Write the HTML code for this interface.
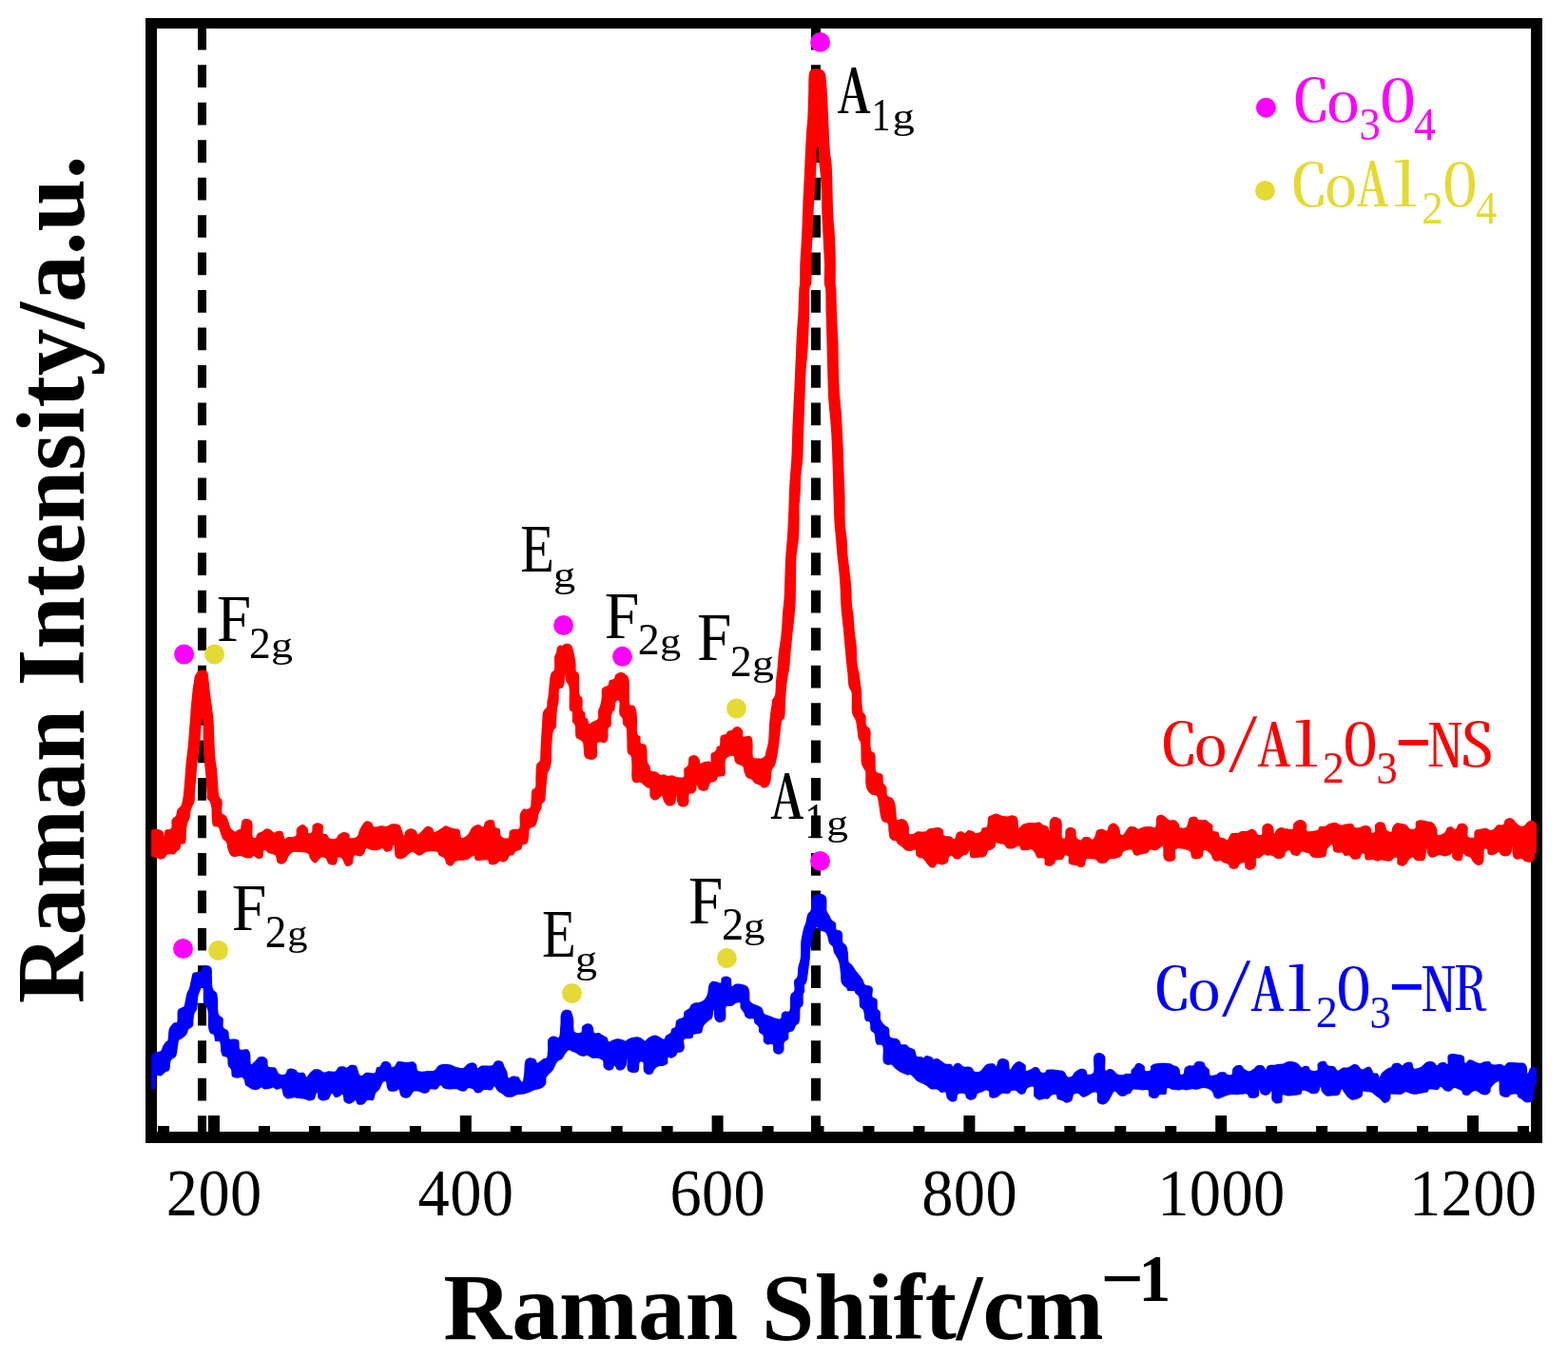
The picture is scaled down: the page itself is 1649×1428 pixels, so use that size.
<!DOCTYPE html><html><head><meta charset="utf-8"><title>Raman spectra</title><style>html,body{margin:0;padding:0;background:#fff;}svg{display:block;}</style></head><body>
<svg width="1649" height="1428" viewBox="0 0 1649 1428" font-family="'Liberation Serif', serif">
<rect width="1649" height="1428" fill="#fff"/>
<line x1="212.5" y1="1196.9" x2="212.5" y2="24.5" stroke="#000" stroke-width="9" stroke-dasharray="23.7 15.76"/>
<line x1="858" y1="1196.9" x2="858" y2="24.5" stroke="#000" stroke-width="10" stroke-dasharray="23.7 15.76"/>
<path d="M153,19H1622V1202H153Z M165,30V1190H1610V30Z" fill="#000" fill-rule="evenodd"/>
<path d="M166.04,1184h12v7h-12Z M219.00,1173h12v18h-12Z M271.96,1184h12v7h-12Z M324.92,1184h12v7h-12Z M377.88,1184h12v7h-12Z M430.84,1184h12v7h-12Z M483.80,1173h12v18h-12Z M536.76,1184h12v7h-12Z M589.72,1184h12v7h-12Z M642.68,1184h12v7h-12Z M695.64,1184h12v7h-12Z M748.60,1173h12v18h-12Z M801.56,1184h12v7h-12Z M854.52,1184h12v7h-12Z M907.48,1184h12v7h-12Z M960.44,1184h12v7h-12Z M1013.40,1173h12v18h-12Z M1066.36,1184h12v7h-12Z M1119.32,1184h12v7h-12Z M1172.28,1184h12v7h-12Z M1225.24,1184h12v7h-12Z M1278.20,1173h12v18h-12Z M1331.16,1184h12v7h-12Z M1384.12,1184h12v7h-12Z M1437.08,1184h12v7h-12Z M1490.04,1184h12v7h-12Z M1543.00,1173h12v18h-12Z M1595.96,1184h12v7h-12Z" fill="#000"/>
<path d="M159.1,873.7 C159.5,873.2 159.8,872.6 160.5,872.3 C161.3,871.9 162.8,871.8 164.1,871.8 C165.5,871.9 167.4,872.2 168.6,872.8 C169.7,873.2 170.8,873.7 171.4,874.6 C172.1,875.7 172.0,879.1 172.3,879.1 C172.6,879.1 172.6,875.3 173.2,874.1 C173.6,873.3 174.2,872.8 175.0,872.3 C176.2,871.6 179.0,872.2 180.0,870.9 C181.3,869.4 179.8,864.7 180.5,862.8 C180.9,861.5 181.6,860.8 182.3,860.0 C183.1,859.2 184.4,858.9 185.0,857.8 C185.9,856.3 185.4,853.1 186.4,851.4 C187.2,849.9 189.1,849.2 190.0,847.7 C191.0,846.2 191.4,844.4 191.8,842.3 C192.5,839.7 192.8,836.5 193.1,833.3 C193.5,829.8 193.8,826.0 194.1,822.1 C194.5,817.8 194.8,813.0 195.1,808.8 C195.4,805.0 195.7,801.3 196.1,798.0 C196.4,795.2 196.7,792.9 197.1,790.2 C197.4,787.3 197.7,784.6 198.0,781.4 C198.4,777.4 198.7,772.5 199.0,768.1 C199.3,763.8 199.7,759.8 200.0,755.4 C200.3,750.8 200.6,745.5 201.0,741.2 C201.3,737.6 201.6,734.5 202.0,731.4 C202.3,728.5 202.6,725.6 202.9,723.0 C203.2,720.9 203.6,719.2 203.9,717.2 C204.3,715.1 204.3,712.4 204.9,710.8 C205.3,709.7 205.8,709.2 206.4,708.3 C207.0,707.4 207.6,705.9 208.3,705.4 C208.9,705.0 209.5,705.0 210.3,704.9 C211.7,704.7 214.8,704.4 216.2,704.9 C217.1,705.2 217.7,705.6 218.1,706.4 C218.9,707.7 218.8,710.5 219.1,712.7 C219.5,715.3 219.8,718.3 220.1,721.1 C220.4,724.0 220.7,726.9 221.1,729.9 C221.5,733.1 222.1,736.6 222.5,739.7 C222.9,742.6 223.2,745.3 223.5,748.0 C223.9,750.7 224.2,752.5 224.5,755.9 C225.0,761.7 225.1,772.5 225.5,779.9 C225.8,786.4 226.0,792.9 226.5,798.0 C226.9,801.8 227.5,804.4 227.9,807.8 C228.4,811.7 228.6,815.9 228.9,820.1 C229.3,824.5 229.3,830.3 229.9,833.8 C230.3,836.1 230.6,838.3 231.4,839.2 C231.8,839.7 232.4,839.5 232.8,840.0 C233.3,840.7 233.5,842.1 233.7,843.7 C234.0,846.4 232.6,853.6 233.7,855.5 C234.2,856.4 235.3,856.4 236.0,856.8 C236.6,857.3 237.2,857.6 237.8,858.2 C238.5,859.1 239.0,860.4 239.6,861.8 C240.5,864.0 241.3,868.2 242.3,870.0 C242.9,871.1 243.4,871.6 244.1,872.3 C245.1,873.2 246.8,874.7 247.8,874.6 C248.5,874.5 248.8,873.2 249.6,872.8 C250.5,872.3 252.1,872.6 252.8,871.8 C253.6,871.0 253.3,868.8 253.7,867.3 C254.1,865.7 254.0,863.4 255.1,862.3 C256.0,861.3 258.1,860.9 259.6,860.9 C261.1,861.0 263.2,861.7 264.2,862.8 C265.0,863.6 265.2,864.8 265.5,866.4 C266.1,869.5 264.6,878.2 266.0,880.0 C266.6,880.9 268.0,881.3 268.7,880.9 C269.6,880.5 269.5,877.9 270.5,876.9 C271.6,875.7 273.6,875.5 275.1,874.6 C276.6,873.7 278.1,871.8 279.6,871.4 C280.8,871.1 282.0,871.4 283.3,871.8 C285.0,872.5 287.2,875.4 288.7,875.5 C289.8,875.6 290.3,874.3 291.4,874.1 C292.9,873.8 295.6,873.6 296.9,874.6 C298.5,875.8 298.4,881.4 299.6,881.9 C300.4,882.2 301.2,880.7 302.4,880.3 C304.4,879.7 309.3,880.7 310.9,879.1 C312.5,877.6 310.9,873.3 312.1,871.2 C313.3,869.3 316.2,866.9 318.2,867.0 C320.1,867.0 322.7,869.5 323.7,871.2 C324.5,872.7 323.4,875.6 324.3,876.1 C325.0,876.5 327.1,875.8 327.9,874.9 C329.0,873.5 327.9,869.2 329.1,867.6 C330.1,866.2 332.3,865.2 334.0,865.2 C335.7,865.1 338.3,866.1 339.4,867.6 C340.8,869.5 338.8,875.3 340.0,876.7 C340.8,877.6 342.6,876.6 343.7,877.3 C344.9,878.1 345.2,880.8 346.7,881.5 C348.3,882.4 351.8,882.4 353.4,881.5 C354.6,880.9 354.6,878.9 355.8,877.9 C357.3,876.6 359.9,874.9 361.9,874.9 C363.7,874.8 366.4,876.1 367.3,877.3 C368.1,878.3 367.1,880.3 367.9,880.9 C369.1,881.8 373.4,881.1 375.2,879.7 C377.2,878.2 377.3,873.9 378.8,871.2 C380.5,868.5 382.6,864.1 384.9,863.4 C386.7,862.8 389.5,864.0 391.0,865.2 C392.2,866.2 392.1,868.8 393.4,869.4 C395.0,870.2 398.3,868.3 400.7,868.2 C402.8,868.1 404.9,869.2 406.7,868.8 C408.5,868.5 409.7,866.7 411.6,866.4 C414.0,866.0 418.3,866.3 420.1,867.6 C421.5,868.6 421.7,870.7 422.5,872.4 C423.3,874.3 424.2,878.5 424.9,878.5 C425.6,878.5 425.6,874.9 426.7,873.7 C428.0,872.4 430.4,871.2 432.2,871.2 C434.0,871.2 436.4,872.5 437.7,873.7 C438.7,874.6 438.6,877.1 439.5,877.3 C440.5,877.5 442.2,875.0 443.7,873.7 C445.4,872.2 447.2,869.2 449.2,868.8 C451.1,868.5 454.1,870.0 455.2,871.2 C456.1,872.2 455.5,874.5 456.5,874.9 C457.8,875.4 461.6,872.4 463.7,871.2 C465.5,870.2 466.9,868.4 468.6,868.2 C470.2,868.0 471.8,869.5 473.4,870.0 C475.0,870.5 476.7,870.8 478.3,871.2 C479.9,871.6 482.0,871.3 483.1,872.4 C484.7,874.0 484.0,880.2 485.6,880.9 C487.0,881.6 489.9,879.5 491.6,877.9 C493.7,876.1 494.6,871.9 496.7,870.0 C498.5,868.4 501.3,867.0 503.3,867.0 C505.1,867.0 507.1,869.9 508.2,869.4 C509.3,869.0 509.0,865.8 510.0,864.6 C511.0,863.4 512.7,862.5 514.3,862.2 C515.8,861.9 517.9,861.8 519.1,862.8 C520.6,864.0 520.2,868.7 521.5,870.0 C522.5,871.0 524.3,870.3 525.2,871.3 C526.5,872.7 525.7,877.4 527.0,879.1 C528.0,880.5 529.8,881.4 531.2,881.6 C532.5,881.7 534.1,881.3 534.9,880.4 C536.0,879.1 535.0,875.1 536.1,873.7 C536.9,872.6 538.3,872.3 539.7,871.9 C541.5,871.4 544.5,872.6 545.8,871.3 C547.9,869.1 545.7,859.8 547.0,856.1 C547.8,853.7 549.1,851.5 550.6,850.6 C552.0,849.9 554.2,851.2 555.5,850.6 C556.6,850.2 557.4,849.3 557.9,848.2 C558.6,846.7 558.3,844.5 558.5,842.2 C558.9,838.9 558.5,832.9 559.7,830.6 C560.5,829.3 562.1,829.5 562.8,828.2 C563.9,826.0 563.1,821.1 563.4,817.3 C563.7,812.9 563.3,806.2 564.6,803.3 C565.3,801.8 566.9,801.7 567.6,800.3 C568.6,798.4 568.8,792.4 568.8,792.4 C568.9,792.4 568.2,800.0 568.1,800.0 C568.0,800.0 568.7,783.6 569.1,776.7 C569.4,771.3 569.7,766.9 570.1,762.2 C570.4,757.7 570.3,751.8 571.0,749.1 C571.4,747.7 571.9,747.0 572.5,746.2 C573.2,745.3 574.4,744.8 574.9,743.7 C575.6,742.3 575.2,739.8 575.4,737.9 C575.7,736.2 576.1,735.0 576.4,733.1 C576.8,730.3 577.0,726.2 577.4,722.9 C577.7,719.6 577.8,716.0 578.3,713.2 C578.7,711.0 578.9,708.9 579.8,707.4 C580.5,706.1 582.0,706.0 582.7,704.4 C583.9,701.6 582.4,693.7 583.2,690.4 C583.6,688.5 584.6,687.6 585.1,686.0 C585.6,684.3 585.3,681.9 586.1,680.7 C586.7,679.7 587.6,679.1 588.5,678.7 C589.4,678.4 590.5,679.0 591.4,678.7 C592.4,678.5 593.2,677.3 594.3,677.0 C595.5,676.7 597.1,676.7 598.2,677.0 C599.2,677.2 599.9,677.5 600.6,678.2 C601.7,679.5 602.4,682.4 603.1,684.6 C603.7,686.6 604.1,688.8 604.5,690.9 C604.9,693.0 605.3,694.9 605.5,697.2 C605.8,699.8 605.1,704.1 606.0,705.9 C606.5,707.0 607.8,706.7 608.4,707.8 C609.6,710.1 608.9,716.4 609.1,720.5 C609.3,724.2 608.7,728.8 609.7,731.1 C610.3,732.5 611.7,732.6 612.3,734.0 C613.4,736.7 611.7,744.6 612.8,747.1 C613.3,748.4 614.7,748.5 615.2,749.6 C615.8,750.8 615.0,753.5 615.7,754.4 C616.1,755.0 617.0,754.8 617.6,755.4 C618.6,756.5 619.0,760.9 620.0,761.2 C620.8,761.4 621.6,759.8 622.5,759.3 C623.5,758.7 624.8,758.5 625.9,757.8 C626.9,757.2 628.2,756.6 628.8,755.4 C629.6,753.6 628.6,750.0 629.1,747.6 C629.5,745.5 630.6,743.9 631.2,741.8 C631.9,739.4 632.3,736.8 632.7,734.0 C633.0,731.0 632.3,726.3 633.1,724.3 C633.6,723.3 634.2,723.0 635.1,722.4 C636.2,721.6 638.5,721.6 639.5,720.5 C640.5,719.3 639.9,716.7 640.9,715.6 C642.0,714.5 644.7,714.7 645.8,713.7 C646.7,712.7 646.4,710.8 647.2,709.8 C648.0,708.7 649.3,707.8 650.6,707.4 C652.0,706.9 654.1,706.9 655.5,707.4 C656.8,707.8 657.9,708.8 658.9,709.8 C659.9,710.8 660.7,711.8 661.3,713.7 C662.3,717.2 661.5,725.2 661.8,730.2 C662.0,734.2 661.3,739.8 662.7,741.3 C663.5,742.2 665.2,741.2 666.1,741.8 C667.2,742.4 667.9,743.7 668.6,745.2 C669.5,747.6 669.7,751.6 670.0,755.4 C670.4,760.2 669.2,768.8 670.5,771.9 C671.2,773.4 672.8,773.5 673.4,774.8 C674.2,776.5 672.9,780.4 673.9,781.6 C674.7,782.5 676.8,782.0 677.8,782.6 C678.6,783.0 679.2,783.4 679.7,784.5 C681.1,787.3 680.1,798.8 681.3,802.2 C681.9,803.9 682.9,804.2 683.5,805.5 C684.1,806.9 683.5,809.4 684.6,810.4 C685.6,811.5 688.3,810.8 690.0,811.5 C691.8,812.2 693.4,814.4 694.9,814.8 C696.1,815.0 697.1,814.1 698.2,814.2 C699.6,814.4 701.1,815.7 702.6,815.9 C704.0,816.0 705.5,815.1 706.9,815.3 C708.4,815.5 709.8,816.6 711.3,817.0 C712.7,817.3 714.3,817.5 715.7,817.5 C716.8,817.5 718.2,817.8 718.9,817.0 C720.1,815.7 718.5,810.3 719.5,808.2 C720.3,806.7 722.4,806.5 723.3,804.9 C724.5,802.9 723.5,798.0 724.9,796.2 C726.1,794.8 728.3,794.0 729.9,794.0 C731.2,794.0 732.7,794.8 733.7,795.7 C734.7,796.6 735.4,798.2 735.9,799.5 C736.3,800.6 735.7,802.4 736.4,802.8 C737.2,803.2 739.3,801.5 740.8,801.1 C742.2,800.8 743.9,800.5 745.1,800.6 C746.0,800.6 746.8,801.5 747.3,801.1 C748.3,800.4 746.7,794.2 747.9,792.4 C748.7,791.1 750.7,791.0 751.7,790.2 C752.4,789.6 753.0,788.8 753.3,788.0 C753.7,787.2 753.3,785.9 753.9,785.3 C754.4,784.6 755.9,785.1 756.6,784.2 C757.9,782.6 756.6,775.9 758.2,773.8 C759.5,772.3 762.5,772.7 763.7,771.7 C764.6,770.9 764.5,769.6 765.3,768.9 C766.4,768.2 768.7,768.5 769.7,767.8 C770.5,767.3 770.5,766.2 771.3,765.7 C772.4,764.9 774.4,763.9 775.7,764.0 C776.9,764.1 778.1,764.9 779.0,765.7 C779.9,766.4 780.7,767.2 781.2,768.4 C781.8,769.9 780.6,773.5 781.7,774.4 C782.7,775.2 785.6,773.6 787.2,773.8 C788.4,774.1 789.7,774.5 790.4,775.5 C791.4,776.7 791.2,779.0 791.5,781.5 C792.0,785.4 790.7,794.7 792.6,796.8 C793.7,797.9 796.0,797.2 797.5,797.3 C798.9,797.4 800.2,797.7 801.4,797.3 C802.6,796.9 804.0,795.7 804.6,794.6 C805.2,793.6 804.9,792.7 805.2,791.3 C805.7,788.7 807.3,784.5 807.9,780.4 C808.7,775.3 808.6,768.2 809.0,762.9 C809.3,758.5 809.6,754.8 810.1,750.9 C810.5,747.2 811.5,742.6 811.7,740.0 C811.9,738.5 811.5,737.8 811.9,736.6 C812.4,734.9 814.2,733.6 814.9,731.3 C816.0,727.6 815.6,720.5 816.1,715.6 C816.5,711.2 817.1,707.8 817.5,703.3 C818.0,698.0 818.4,690.5 818.9,685.8 C819.3,682.6 819.7,680.7 820.1,677.9 C820.6,674.9 821.0,671.7 821.4,668.3 C821.8,664.5 822.1,660.1 822.4,656.0 C822.7,652.0 822.8,648.0 823.1,643.8 C823.5,639.3 824.1,635.1 824.5,629.8 C825.0,622.9 825.1,613.9 825.4,606.1 C825.7,598.7 825.8,591.1 826.3,584.3 C826.6,578.3 827.2,573.4 827.7,567.6 C828.1,561.2 828.5,555.1 828.9,547.5 C829.4,537.6 829.7,522.2 830.1,513.3 C830.4,507.6 830.7,504.0 831.0,499.3 C831.4,494.4 831.9,490.0 832.2,484.4 C832.7,477.2 832.8,468.3 833.1,459.9 C833.4,451.1 833.8,441.5 834.2,432.7 C834.5,424.6 835.0,416.8 835.4,409.1 C835.7,401.7 836.0,394.1 836.3,387.2 C836.5,381.0 836.9,375.7 837.1,369.7 C837.4,363.2 837.6,356.3 838.0,349.5 C838.4,342.8 839.0,336.7 839.4,329.4 C839.9,320.8 840.1,304.8 840.6,301.4 C840.8,300.6 840.9,300.7 841.0,300.0 C841.4,297.1 841.1,285.3 841.3,278.5 C841.6,272.3 842.0,267.1 842.4,260.8 C842.7,253.8 843.2,245.9 843.5,238.2 C843.9,230.2 844.1,221.0 844.4,213.8 C844.6,207.9 844.9,203.3 845.2,197.8 C845.5,191.9 845.7,186.0 846.1,179.3 C846.4,171.6 846.8,161.7 847.2,154.1 C847.6,147.9 847.9,142.8 848.2,137.3 C848.6,132.1 849.1,128.0 849.4,122.2 C849.8,114.5 849.9,103.4 850.3,95.3 C850.5,88.6 850.1,80.4 851.1,76.8 C851.5,75.2 851.9,74.1 852.8,73.4 C853.6,72.8 854.8,72.7 856.1,72.6 C858.3,72.4 862.5,72.3 864.5,73.4 C866.2,74.3 867.2,76.0 867.9,77.6 C868.6,79.4 868.5,81.3 868.7,83.5 C869.1,86.4 869.3,89.9 869.6,93.6 C869.9,98.1 870.2,103.4 870.4,108.7 C870.7,114.6 870.9,120.2 871.3,127.2 C871.7,136.4 872.2,150.8 872.9,159.2 C873.4,164.6 874.2,167.4 874.6,172.6 C875.2,179.7 875.2,189.2 875.5,197.8 C875.7,206.8 875.9,216.6 876.3,225.5 C876.7,233.9 877.6,241.7 878.0,249.9 C878.4,258.2 878.7,266.7 878.8,275.1 C879.0,283.4 878.5,296.2 878.8,300.0 C878.9,301.2 879.1,301.1 879.2,302.3 C879.6,306.5 879.7,321.5 880.1,331.2 C880.4,341.0 881.1,350.5 881.5,360.9 C881.8,372.3 881.7,386.0 882.2,396.8 C882.5,405.8 883.0,414.2 883.6,421.3 C884.0,426.9 884.6,431.3 885.0,436.2 C885.3,441.0 885.4,445.4 885.7,450.2 C885.9,455.6 886.3,460.8 886.5,466.9 C886.9,474.3 887.1,482.8 887.4,491.4 C887.7,500.8 888.2,511.2 888.5,521.2 C888.7,531.3 888.4,543.3 888.9,551.9 C889.3,558.0 890.3,562.5 890.7,567.6 C891.1,572.7 890.9,577.2 891.4,582.5 C891.9,588.5 893.0,595.5 893.7,601.8 C894.3,607.7 895.0,613.6 895.4,619.3 C895.8,624.7 895.5,629.9 895.9,635.0 C896.3,639.8 897.2,644.2 897.7,649.0 C898.2,654.1 898.4,659.7 898.9,664.8 C899.4,669.6 900.2,673.7 900.7,678.8 C901.2,684.7 900.9,692.6 901.5,698.1 C902.0,702.1 903.0,705.0 903.6,708.6 C904.2,712.0 904.6,715.9 905.0,719.1 C905.4,721.6 905.6,723.1 905.9,726.1 C906.5,731.5 906.1,744.7 907.7,748.8 C908.3,750.6 909.7,750.7 910.3,752.3 C911.2,754.8 910.0,760.4 911.2,762.8 C911.9,764.5 913.8,764.6 914.7,766.3 C916.1,769.2 916.3,780.0 916.4,780.0 C916.5,780.0 915.8,770.0 915.8,770.0 C915.7,770.0 914.7,785.9 916.4,789.4 C917.2,791.1 919.2,790.8 920.0,792.4 C921.3,795.1 920.2,801.6 920.6,805.2 C920.9,807.8 920.6,810.3 921.8,811.8 C923.1,813.3 926.7,812.7 927.9,814.3 C929.4,816.2 928.2,821.0 929.1,823.4 C929.8,825.2 931.4,825.8 932.2,827.6 C933.1,830.0 932.0,834.8 933.4,836.7 C934.4,838.2 936.9,837.9 938.2,839.1 C939.6,840.5 940.5,842.4 941.2,844.6 C942.2,847.4 942.0,851.8 942.5,854.9 C942.8,857.5 942.5,861.4 943.7,862.2 C944.6,862.8 946.4,860.9 947.9,861.0 C949.6,861.1 952.1,862.0 953.4,863.4 C954.7,864.8 955.3,867.3 955.8,869.5 C956.3,871.7 955.3,875.7 956.4,876.7 C957.3,877.5 959.3,877.1 960.7,876.7 C962.1,876.3 963.2,874.8 964.9,874.3 C967.2,873.7 971.3,875.1 973.4,874.3 C975.0,873.7 975.6,871.9 977.0,871.3 C978.5,870.7 980.3,870.9 981.9,870.7 C983.5,870.5 985.2,869.8 986.7,870.1 C988.4,870.3 990.6,871.2 991.6,872.5 C992.7,873.9 991.5,877.3 992.8,878.6 C994.2,879.9 998.1,879.0 1000.1,879.8 C1001.6,880.4 1002.7,882.5 1003.7,882.2 C1005.0,881.8 1005.2,876.8 1006.7,875.5 C1008.0,874.5 1010.2,874.1 1011.6,874.3 C1012.8,874.5 1013.6,876.2 1014.6,876.1 C1015.8,876.0 1016.8,873.4 1018.3,873.1 C1019.8,872.7 1022.3,873.7 1023.7,874.3 C1024.8,874.8 1025.1,876.0 1026.1,876.1 C1027.6,876.4 1030.5,875.4 1031.6,874.3 C1032.5,873.4 1031.9,871.5 1032.8,870.7 C1033.8,869.7 1036.5,870.7 1037.7,869.5 C1039.3,867.7 1038.0,861.2 1039.5,859.1 C1040.5,857.7 1042.3,857.3 1043.7,856.7 C1045.1,856.1 1046.6,855.4 1048.0,855.5 C1049.4,855.6 1050.6,856.8 1052.2,857.3 C1054.3,857.9 1057.3,858.6 1059.5,858.5 C1061.3,858.5 1062.8,857.2 1064.4,857.3 C1066.0,857.4 1068.2,858.2 1069.2,859.1 C1070.0,859.9 1070.1,860.9 1070.4,862.2 C1071.0,864.3 1070.6,870.3 1071.6,870.7 C1072.5,870.9 1073.8,867.9 1075.3,867.0 C1076.9,866.1 1078.9,865.5 1080.9,865.2 C1083.2,864.8 1085.9,865.3 1088.2,865.2 C1090.1,865.1 1092.3,864.1 1093.7,864.6 C1094.7,864.9 1095.0,866.3 1096.1,867.0 C1097.6,868.0 1101.0,868.1 1102.1,869.4 C1103.1,870.5 1103.0,873.7 1103.4,873.7 C1103.9,873.6 1103.1,864.6 1104.6,862.1 C1105.5,860.5 1107.4,859.4 1108.8,859.1 C1110.0,858.8 1111.3,859.2 1112.4,859.7 C1113.7,860.3 1115.2,861.0 1116.1,862.7 C1117.8,866.1 1115.6,878.9 1117.3,880.9 C1117.9,881.7 1119.1,882.0 1119.7,881.5 C1120.9,880.8 1119.7,874.4 1120.9,872.4 C1121.8,871.1 1123.2,870.2 1124.6,870.0 C1126.3,869.8 1129.3,870.4 1130.6,871.8 C1132.3,873.6 1131.1,879.0 1132.5,880.9 C1133.5,882.3 1135.5,883.5 1136.7,883.4 C1137.9,883.2 1138.4,880.9 1139.7,880.3 C1141.2,879.7 1143.6,879.9 1145.2,880.3 C1146.6,880.8 1147.8,882.9 1148.8,882.8 C1149.8,882.6 1150.5,881.0 1151.3,879.7 C1152.2,878.0 1152.2,874.4 1153.7,873.1 C1155.1,871.8 1157.9,871.7 1159.8,871.8 C1161.3,872.0 1163.0,874.1 1164.0,873.7 C1165.1,873.2 1164.9,870.1 1165.8,868.8 C1166.7,867.5 1168.1,866.2 1169.5,865.8 C1170.7,865.4 1172.5,865.7 1173.7,866.4 C1175.2,867.3 1176.5,869.4 1177.3,871.2 C1178.2,873.1 1177.6,876.3 1178.6,877.3 C1179.1,877.9 1180.2,878.2 1181.0,877.9 C1182.1,877.5 1182.9,875.1 1184.0,873.7 C1185.1,872.2 1186.1,870.1 1187.6,869.4 C1189.3,868.7 1192.0,868.9 1193.7,869.4 C1195.2,869.9 1196.1,871.8 1197.3,871.8 C1198.5,871.9 1199.5,870.5 1201.0,870.0 C1203.2,869.4 1207.0,869.0 1209.5,869.1 C1211.5,869.1 1213.7,870.9 1214.9,870.0 C1216.7,868.7 1215.0,860.5 1216.8,858.5 C1218.0,857.1 1220.5,856.6 1222.2,856.9 C1224.0,857.2 1225.9,859.3 1227.1,860.3 C1227.9,861.0 1228.0,861.7 1228.9,862.1 C1230.4,862.9 1234.3,861.9 1236.2,862.7 C1237.7,863.5 1239.0,865.1 1239.8,866.4 C1240.5,867.5 1240.1,869.3 1241.0,870.0 C1242.2,870.9 1245.8,870.8 1247.1,870.0 C1248.2,869.4 1248.3,867.8 1248.9,866.4 C1249.7,864.5 1249.8,860.9 1251.3,859.7 C1252.8,858.5 1256.4,858.4 1258.0,859.1 C1259.2,859.6 1259.2,861.6 1260.4,862.1 C1262.1,862.9 1265.6,861.5 1267.7,862.1 C1269.5,862.7 1270.8,864.2 1272.1,865.2 C1273.3,866.0 1274.5,866.4 1275.2,867.6 C1276.0,869.1 1274.7,872.5 1275.8,873.7 C1276.8,874.8 1280.0,873.8 1281.2,874.9 C1282.5,876.0 1281.9,879.2 1283.0,880.3 C1284.2,881.4 1286.6,880.9 1287.9,881.5 C1288.9,882.0 1289.5,883.5 1290.3,883.4 C1291.7,883.1 1293.3,877.7 1294.6,876.7 C1295.2,876.2 1295.6,876.3 1296.4,876.1 C1297.9,875.8 1301.6,876.0 1303.1,875.5 C1303.9,875.2 1304.0,874.6 1304.9,874.3 C1306.4,873.7 1309.5,874.1 1311.5,873.7 C1313.3,873.3 1314.8,871.8 1316.4,871.8 C1317.9,871.9 1319.6,872.7 1320.6,873.7 C1321.6,874.6 1321.5,876.6 1322.5,877.3 C1323.5,878.0 1325.8,878.6 1326.7,877.9 C1328.1,876.9 1326.6,870.9 1327.9,868.8 C1329.0,867.2 1331.1,865.9 1332.8,865.8 C1334.4,865.6 1336.5,866.6 1337.6,867.6 C1338.6,868.5 1339.0,869.9 1339.4,871.2 C1339.9,872.8 1339.5,876.6 1340.0,876.7 C1340.6,876.8 1341.3,873.5 1342.5,872.4 C1343.7,871.3 1345.7,870.2 1347.3,870.0 C1348.8,869.9 1350.3,871.1 1351.6,871.2 C1352.5,871.4 1353.0,871.2 1354.0,871.2 C1355.5,871.3 1358.3,872.7 1359.5,871.8 C1360.6,871.0 1359.5,867.4 1360.7,865.8 C1361.9,864.1 1364.8,862.4 1366.7,862.1 C1368.4,861.9 1370.3,862.6 1371.6,863.4 C1372.7,864.1 1373.5,865.1 1374.0,866.4 C1374.7,868.2 1373.3,872.5 1374.6,873.7 C1375.8,874.8 1379.3,873.9 1381.3,873.7 C1383.0,873.4 1385.1,873.3 1386.1,872.4 C1386.9,871.7 1386.5,870.1 1387.3,869.4 C1388.5,868.5 1391.7,869.4 1393.4,868.8 C1394.9,868.3 1395.5,867.0 1397.1,866.4 C1399.2,865.6 1403.2,864.8 1405.5,865.2 C1407.4,865.5 1408.7,867.4 1410.4,867.6 C1412.0,867.8 1413.5,866.6 1415.2,866.4 C1417.4,866.1 1420.9,865.5 1422.5,866.4 C1423.8,867.1 1423.8,869.4 1424.9,870.0 C1426.2,870.7 1428.2,870.3 1429.8,870.0 C1431.4,869.7 1433.0,868.4 1434.7,868.2 C1436.2,868.0 1438.3,868.1 1439.5,868.8 C1440.6,869.4 1441.4,870.7 1441.9,871.8 C1442.4,872.9 1441.9,875.0 1442.5,875.5 C1443.2,875.9 1444.9,875.6 1445.6,874.9 C1446.6,873.7 1445.1,868.8 1446.2,867.0 C1447.0,865.6 1448.5,864.7 1450.0,864.4 C1451.6,864.1 1454.2,864.5 1455.5,865.5 C1456.7,866.5 1457.0,869.0 1457.6,870.4 C1458.1,871.4 1458.0,872.4 1458.7,873.1 C1459.6,874.0 1462.2,875.2 1463.1,874.8 C1464.0,874.3 1463.4,871.8 1464.2,870.4 C1465.1,868.7 1466.8,866.2 1468.6,865.5 C1470.1,864.9 1472.2,865.7 1474.0,866.0 C1475.9,866.4 1478.0,866.7 1479.5,867.7 C1480.9,868.6 1481.3,870.9 1482.7,871.5 C1484.2,872.1 1487.1,872.0 1488.2,870.9 C1489.5,869.7 1488.1,865.3 1489.3,863.8 C1490.2,862.7 1492.2,862.4 1493.7,862.2 C1495.1,862.0 1496.7,862.4 1498.0,862.7 C1499.2,863.0 1500.1,863.5 1501.3,863.8 C1502.9,864.3 1505.2,863.9 1506.8,864.9 C1508.6,866.2 1510.2,869.2 1511.1,871.5 C1512.0,873.6 1511.0,877.3 1512.2,878.0 C1513.3,878.7 1516.3,877.1 1517.7,876.4 C1518.6,875.9 1519.2,875.5 1519.9,874.8 C1520.7,873.7 1520.9,871.3 1522.0,870.4 C1523.1,869.5 1525.0,869.1 1526.4,869.3 C1527.9,869.5 1529.5,872.3 1530.8,872.0 C1532.1,871.7 1532.5,867.5 1534.1,866.6 C1535.5,865.7 1537.9,865.5 1539.5,866.0 C1541.0,866.5 1542.5,867.7 1543.3,869.3 C1544.5,871.6 1542.5,878.0 1543.9,879.7 C1544.8,880.8 1547.1,880.6 1548.2,880.8 C1548.9,880.8 1549.5,881.1 1549.9,880.8 C1550.8,880.0 1549.9,875.1 1551.0,873.7 C1551.8,872.6 1553.5,872.4 1554.8,872.0 C1555.9,871.7 1556.8,871.6 1558.1,871.5 C1559.7,871.3 1561.8,870.6 1563.5,870.9 C1565.1,871.2 1566.5,873.1 1567.9,873.1 C1569.1,873.1 1570.1,872.3 1571.2,871.5 C1572.4,870.5 1573.0,868.4 1574.4,867.7 C1576.1,866.8 1579.6,868.1 1581.0,867.1 C1582.1,866.3 1581.6,863.9 1582.6,862.7 C1583.7,861.5 1585.9,860.1 1587.5,860.0 C1589.2,859.9 1591.3,861.2 1592.4,862.2 C1593.3,863.0 1593.3,864.0 1594.1,864.9 C1595.3,866.2 1597.9,868.4 1599.5,868.8 C1600.7,869.0 1601.7,868.8 1602.8,868.2 C1604.3,867.4 1605.7,864.7 1607.2,863.8 C1608.4,863.1 1609.8,862.6 1611.0,862.7 C1612.3,862.9 1614.0,864.3 1614.8,864.9 C1615.3,865.3 1615.6,865.7 1615.9,866.0 L1615.9,896.6 C1615.4,896.9 1614.7,897.0 1614.3,897.7 C1613.6,898.7 1614.4,901.6 1613.7,903.1 C1613.1,904.5 1611.8,905.9 1610.5,906.4 C1609.2,906.9 1607.4,906.6 1606.1,906.4 C1604.9,906.2 1603.7,905.9 1602.8,905.3 C1601.9,904.8 1601.6,903.5 1600.6,903.1 C1599.3,902.7 1596.8,904.1 1595.2,903.7 C1593.7,903.3 1592.2,902.4 1591.4,901.0 C1590.0,898.7 1590.6,890.0 1590.3,890.0 C1590.1,890.0 1590.2,893.9 1589.7,895.5 C1589.3,896.9 1588.6,898.5 1587.5,899.3 C1586.4,900.1 1584.6,900.4 1583.2,900.4 C1581.7,900.4 1580.0,900.1 1578.8,899.3 C1577.6,898.6 1577.1,896.2 1576.1,896.0 C1575.2,895.9 1574.4,897.2 1573.3,897.7 C1572.1,898.3 1570.4,899.3 1569.0,899.3 C1567.5,899.3 1565.4,898.7 1564.6,897.7 C1563.8,896.7 1564.8,894.1 1564.1,893.3 C1563.5,892.7 1562.0,892.3 1561.3,892.8 C1559.9,893.8 1561.2,902.4 1560.2,905.3 C1559.7,907.0 1559.2,908.4 1558.1,909.1 C1557.0,909.9 1555.1,910.1 1553.7,909.7 C1552.2,909.3 1550.6,907.7 1549.3,906.4 C1548.0,905.0 1547.4,902.6 1546.1,901.5 C1544.8,900.5 1542.9,900.6 1541.7,899.9 C1540.6,899.3 1539.7,897.4 1539.0,897.7 C1538.0,898.0 1538.6,903.0 1537.3,904.2 C1536.3,905.2 1534.4,905.5 1533.0,905.3 C1531.2,905.1 1528.5,903.5 1527.5,902.0 C1526.7,900.7 1527.5,897.3 1527.0,897.1 C1526.6,897.0 1526.1,898.3 1525.3,898.8 C1524.1,899.5 1521.8,900.3 1519.9,900.4 C1517.8,900.5 1515.2,899.1 1513.3,899.3 C1511.8,899.5 1510.9,900.6 1509.5,901.0 C1508.0,901.3 1505.9,902.0 1504.6,901.5 C1503.2,901.0 1502.0,899.2 1501.3,897.7 C1500.5,896.1 1500.5,892.2 1500.2,892.2 C1499.9,892.2 1500.0,895.8 1499.7,897.7 C1499.3,899.8 1499.3,903.0 1498.0,904.2 C1496.8,905.4 1494.3,905.4 1492.6,905.3 C1491.0,905.3 1489.3,904.9 1488.2,904.2 C1487.2,903.6 1487.0,901.7 1486.0,901.5 C1484.9,901.3 1482.8,903.0 1481.7,904.2 C1480.5,905.4 1480.1,907.5 1478.9,908.6 C1477.9,909.6 1476.5,910.7 1475.1,910.8 C1473.5,910.9 1470.7,910.0 1469.6,908.6 C1468.6,907.1 1470.0,902.9 1469.1,902.0 C1468.5,901.5 1467.3,901.7 1466.4,902.0 C1465.2,902.5 1464.5,904.7 1463.1,905.3 C1461.4,906.0 1458.3,905.6 1456.5,905.3 C1455.3,905.1 1454.4,904.2 1453.3,904.2 C1452.2,904.2 1450.7,905.0 1450.0,905.3 C1449.6,905.5 1449.6,905.8 1449.2,905.8 C1448.1,905.9 1444.9,904.1 1443.1,904.0 C1441.8,903.9 1440.7,904.7 1439.5,904.6 C1438.3,904.5 1436.7,904.3 1435.9,903.4 C1434.9,902.3 1435.6,898.6 1434.7,897.9 C1434.1,897.4 1432.9,897.5 1432.2,897.9 C1431.2,898.6 1431.2,901.8 1429.8,902.8 C1428.2,903.9 1424.4,904.1 1422.5,903.4 C1420.9,902.8 1420.3,900.3 1418.9,899.7 C1417.5,899.2 1415.3,900.3 1414.0,899.7 C1412.9,899.2 1412.7,897.2 1411.6,896.7 C1410.4,896.1 1408.3,897.0 1406.8,896.7 C1405.3,896.4 1403.5,896.0 1402.5,894.9 C1401.3,893.5 1401.8,888.5 1400.7,888.2 C1399.6,887.9 1396.9,891.1 1395.8,893.1 C1394.8,895.0 1395.7,898.3 1394.6,899.7 C1393.8,900.8 1392.6,901.2 1391.0,901.6 C1388.4,902.2 1382.6,902.7 1380.1,901.6 C1378.3,900.7 1377.7,898.1 1376.4,897.3 C1375.5,896.7 1374.5,897.0 1373.4,896.7 C1372.1,896.4 1370.4,895.1 1369.2,895.5 C1367.7,895.9 1367.1,899.1 1365.5,899.7 C1363.9,900.4 1360.8,899.9 1359.5,899.1 C1358.5,898.6 1358.2,897.5 1357.6,896.7 C1357.0,895.9 1356.6,894.5 1355.8,894.3 C1354.9,894.1 1353.0,895.1 1352.2,896.1 C1351.3,897.1 1351.8,899.2 1351.0,900.3 C1350.2,901.5 1348.7,902.4 1347.3,902.8 C1345.9,903.2 1344.0,903.2 1342.5,902.8 C1340.8,902.3 1339.3,900.2 1337.6,899.7 C1336.1,899.3 1334.2,900.0 1332.8,899.7 C1331.6,899.5 1330.8,898.4 1329.7,898.5 C1328.3,898.7 1326.5,901.5 1324.9,902.2 C1323.7,902.7 1322.0,901.9 1321.2,902.8 C1320.1,904.0 1321.6,908.6 1320.6,910.7 C1319.9,912.3 1318.3,913.6 1317.0,914.3 C1315.9,914.9 1314.5,915.2 1313.4,914.9 C1312.1,914.6 1310.5,913.7 1309.7,912.5 C1308.8,911.1 1309.6,907.6 1308.5,907.0 C1307.5,906.5 1304.9,907.8 1303.7,908.8 C1302.5,909.8 1302.6,912.3 1301.2,913.1 C1299.6,914.0 1295.6,914.0 1294.0,913.1 C1292.6,912.3 1292.8,909.8 1291.5,908.8 C1290.2,907.7 1287.3,907.8 1286.1,907.0 C1285.2,906.5 1285.1,905.5 1284.3,905.2 C1283.1,904.8 1280.9,906.1 1279.4,905.8 C1278.1,905.6 1276.7,905.0 1275.8,904.0 C1274.6,902.8 1274.7,900.1 1273.3,898.5 C1271.8,896.6 1268.0,893.1 1266.5,893.7 C1264.9,894.2 1265.8,900.0 1264.1,901.6 C1262.4,903.1 1258.8,903.6 1256.8,903.4 C1255.3,903.2 1254.0,902.6 1253.1,901.6 C1252.2,900.3 1252.8,897.4 1251.9,896.1 C1251.1,894.9 1249.9,894.2 1248.3,893.7 C1245.6,892.8 1238.7,891.3 1236.8,893.1 C1235.0,894.7 1237.1,900.7 1236.2,902.8 C1235.6,904.0 1234.8,904.7 1233.7,905.2 C1232.3,905.9 1229.3,906.3 1227.7,905.8 C1226.2,905.3 1224.9,904.4 1224.0,902.8 C1222.6,900.0 1224.1,890.0 1222.8,889.4 C1222.2,889.2 1221.4,890.6 1220.4,891.2 C1219.1,892.2 1217.3,893.9 1215.5,894.3 C1213.7,894.7 1210.9,893.1 1209.5,893.7 C1208.3,894.2 1208.3,895.9 1207.1,896.7 C1205.4,897.8 1201.8,897.9 1199.8,898.5 C1198.3,898.9 1197.3,899.7 1196.1,899.7 C1194.9,899.7 1193.5,899.4 1192.5,898.5 C1191.3,897.5 1191.5,894.4 1190.1,893.7 C1188.3,892.8 1183.4,894.1 1181.6,895.5 C1180.1,896.6 1180.5,899.1 1179.2,900.3 C1177.7,901.7 1175.2,902.3 1173.1,902.8 C1171.1,903.3 1168.7,902.6 1167.0,903.4 C1165.5,904.1 1165.0,906.3 1163.4,907.0 C1161.5,907.9 1158.0,908.3 1156.1,907.6 C1154.5,907.0 1153.8,904.7 1152.5,904.0 C1151.3,903.4 1150.2,903.5 1148.8,903.4 C1147.1,903.2 1144.2,902.4 1142.8,903.4 C1141.2,904.5 1141.8,909.3 1140.3,910.7 C1139.2,911.8 1137.0,912.0 1135.5,911.9 C1134.2,911.7 1133.2,910.5 1131.9,910.0 C1130.4,909.6 1128.4,909.9 1127.0,909.4 C1125.8,909.0 1124.6,908.7 1124.0,907.6 C1123.0,906.1 1124.4,901.5 1123.4,900.3 C1122.6,899.5 1120.6,899.3 1119.7,899.7 C1118.8,900.2 1119.0,902.6 1117.9,903.4 C1116.4,904.5 1112.0,903.5 1110.6,904.6 C1109.7,905.3 1110.1,906.7 1109.4,907.6 C1108.5,908.8 1106.8,910.3 1105.2,910.7 C1103.4,911.0 1100.3,910.7 1099.1,909.4 C1097.8,908.1 1099.2,904.0 1097.9,902.8 C1096.6,901.6 1092.8,903.2 1091.2,902.2 C1089.7,901.1 1089.4,898.3 1088.2,896.7 C1087.1,895.3 1085.7,893.4 1084.6,893.1 C1083.7,892.8 1083.2,893.5 1082.1,893.7 C1080.2,893.9 1075.8,894.7 1074.1,893.7 C1072.7,892.9 1072.8,889.8 1071.6,889.5 C1070.4,889.1 1068.4,891.4 1066.8,891.9 C1065.2,892.4 1063.4,892.6 1061.9,892.5 C1060.8,892.5 1059.8,892.4 1058.9,891.9 C1057.8,891.2 1057.1,888.9 1055.9,888.3 C1054.8,887.6 1053.5,887.9 1052.2,887.6 C1050.7,887.3 1048.2,885.9 1047.4,886.4 C1046.6,886.9 1047.3,889.0 1046.8,890.1 C1046.2,891.2 1045.0,892.3 1043.7,893.1 C1042.4,894.0 1039.7,894.0 1038.9,894.9 C1038.3,895.6 1038.7,896.5 1038.3,897.3 C1037.7,898.5 1036.5,900.3 1035.2,901.0 C1033.9,901.7 1032.0,901.4 1030.4,901.6 C1028.8,901.8 1027.2,902.2 1025.5,902.2 C1023.9,902.2 1021.7,902.6 1020.7,901.6 C1019.4,900.4 1020.2,894.4 1019.5,894.3 C1018.9,894.2 1018.2,897.7 1017.1,898.6 C1016.0,899.4 1014.1,899.1 1012.8,899.8 C1011.3,900.6 1010.1,902.9 1008.6,903.4 C1007.1,903.9 1005.1,903.5 1003.7,902.8 C1002.5,902.2 1001.7,899.9 1000.7,899.8 C999.9,899.6 998.9,900.2 998.3,901.0 C997.3,902.2 997.7,905.6 996.4,907.1 C995.1,908.5 992.3,909.3 990.4,909.5 C988.7,909.6 986.7,907.8 985.5,908.3 C984.4,908.7 984.2,911.2 983.1,911.9 C982.1,912.5 980.6,912.8 979.5,912.5 C978.2,912.2 977.1,910.8 975.8,909.5 C974.1,907.7 972.1,903.9 970.4,902.8 C969.3,902.2 968.3,902.6 967.3,902.2 C966.1,901.7 964.5,901.0 963.7,899.8 C962.7,898.3 963.6,894.4 962.5,893.7 C961.5,893.1 959.2,894.8 957.6,894.9 C956.0,895.0 954.3,895.0 952.8,894.3 C951.0,893.5 949.5,891.3 947.9,890.1 C946.5,888.9 944.6,888.1 943.7,887.0 C943.0,886.3 943.1,885.1 942.5,884.6 C941.8,884.1 940.4,884.5 939.4,884.0 C938.2,883.4 936.6,882.4 935.8,881.0 C934.8,879.3 935.0,876.7 934.6,874.3 C934.1,871.6 934.6,867.3 933.4,865.8 C932.5,864.8 930.8,865.2 929.7,864.6 C928.8,864.0 927.9,863.3 927.3,862.2 C926.3,860.5 926.0,857.6 925.5,854.9 C924.8,851.4 924.4,846.1 923.7,842.8 C923.1,840.4 923.1,837.9 921.8,836.7 C920.6,835.6 918.0,836.4 916.4,835.5 C914.7,834.5 913.1,832.6 912.1,830.6 C911.1,828.6 910.7,826.1 910.3,823.4 C909.9,819.9 910.7,813.5 910.1,811.2 C909.8,810.3 909.5,810.2 909.1,809.4 C908.4,808.0 906.7,805.7 906.1,803.4 C905.3,800.6 905.7,797.1 905.5,793.7 C905.2,789.6 905.7,783.6 904.9,780.3 C904.3,778.2 902.8,777.2 902.4,775.5 C902.0,773.7 902.3,770.0 902.4,770.0 C902.6,770.0 903.4,780.0 903.3,780.0 C903.2,780.0 902.1,771.9 901.5,768.1 C901.0,764.5 900.8,760.7 899.8,757.6 C898.9,754.9 897.1,753.7 896.3,750.6 C894.9,745.3 896.6,732.7 895.4,727.8 C894.8,725.4 893.4,724.8 892.8,722.6 C891.8,719.1 891.8,712.9 891.4,708.6 C891.0,704.8 890.6,702.1 890.2,698.1 C889.6,692.6 889.0,685.2 888.4,678.8 C887.8,672.4 887.2,665.0 886.7,659.5 C886.2,655.5 885.8,652.7 885.4,649.0 C885.0,645.1 884.7,641.2 884.4,636.8 C884.0,631.5 884.0,625.2 883.7,619.3 C883.3,613.0 882.8,606.1 882.3,600.0 C881.8,594.5 881.0,589.6 880.5,584.3 C880.0,578.8 879.6,573.3 879.1,567.6 C878.6,561.9 878.0,556.7 877.5,550.1 C877.0,541.7 876.9,530.9 876.5,521.2 C876.2,511.3 876.0,500.8 875.7,491.4 C875.4,482.8 875.1,474.3 874.8,466.9 C874.5,460.8 874.3,455.5 873.9,450.2 C873.6,445.4 873.1,441.0 872.7,436.2 C872.3,431.3 871.7,427.0 871.3,421.3 C870.8,414.0 870.7,405.1 870.4,396.0 C870.1,385.2 869.8,372.2 869.5,360.9 C869.3,350.4 869.0,340.3 868.7,330.3 C868.4,320.5 868.7,304.8 867.8,301.4 C867.6,300.6 867.3,300.8 867.1,300.0 C866.3,297.1 867.2,285.2 867.1,278.5 C866.9,272.5 866.5,267.3 866.2,261.7 C865.9,256.1 865.7,250.5 865.4,244.9 C865.1,239.3 864.8,233.7 864.5,228.1 C864.3,222.5 864.2,216.4 864.0,211.3 C863.9,207.0 863.9,203.7 863.7,199.5 C863.5,194.8 863.3,189.4 862.9,184.4 C862.4,179.3 861.6,174.3 861.2,169.2 C860.8,164.2 861.4,155.1 860.3,154.1 C860.1,153.9 859.7,153.9 859.5,154.1 C858.4,155.1 858.9,164.6 858.7,170.1 C858.4,175.8 858.1,182.1 857.8,187.7 C857.5,193.0 857.3,198.3 857.0,202.9 C856.7,206.6 856.4,209.2 856.1,212.9 C855.8,217.5 855.6,222.6 855.3,228.1 C855.0,234.7 854.8,243.3 854.5,249.9 C854.2,255.4 853.9,259.0 853.6,265.0 C853.2,274.3 854.1,297.5 852.8,300.0 C852.6,300.4 852.2,300.1 852.0,300.5 C850.8,302.8 851.5,319.0 851.2,329.4 C850.7,341.7 850.2,358.9 849.4,369.7 C848.9,377.0 848.1,381.7 847.7,388.1 C847.2,394.8 847.1,401.9 846.8,409.1 C846.5,416.7 846.2,424.6 845.9,432.7 C845.6,441.5 845.3,451.1 845.0,459.9 C844.7,468.3 844.7,477.2 844.2,484.4 C843.7,490.0 842.8,494.3 842.4,499.3 C842.0,504.2 842.1,509.3 841.9,514.2 C841.6,518.9 841.3,525.7 841.0,528.2 C840.9,529.1 840.7,529.1 840.6,530.0 C840.3,532.8 840.7,541.5 840.6,547.5 C840.5,554.0 840.5,561.3 839.9,567.6 C839.4,573.5 838.1,578.3 837.6,584.3 C837.1,591.0 837.3,598.7 837.1,606.1 C837.0,613.9 837.0,622.9 836.8,629.8 C836.6,635.1 836.3,639.3 835.9,643.8 C835.5,648.0 835.1,652.0 834.7,656.0 C834.2,660.1 833.7,664.5 833.3,668.3 C832.9,671.7 832.7,674.9 832.4,677.9 C832.1,680.7 831.8,682.7 831.5,685.8 C831.1,690.5 830.8,698.5 830.1,703.3 C829.6,706.7 828.8,709.0 828.4,712.1 C827.8,715.4 827.5,718.6 827.1,722.6 C826.7,727.6 826.3,734.4 825.9,740.0 C825.5,745.3 826.1,752.6 824.8,755.3 C824.3,756.5 823.2,756.5 822.6,757.5 C822.0,758.6 821.9,759.8 821.6,761.8 C820.8,766.0 820.2,775.5 819.4,781.5 C818.7,786.6 818.0,791.5 817.2,795.7 C816.5,798.9 816.0,801.9 815.0,804.4 C814.1,806.5 812.5,807.6 811.7,809.9 C810.8,812.8 811.5,817.7 810.6,820.8 C809.9,823.3 809.0,826.1 807.4,827.3 C805.9,828.4 803.2,828.8 801.9,828.4 C800.9,828.1 800.7,826.9 799.7,826.2 C798.4,825.3 795.8,825.1 794.3,824.1 C792.7,823.0 791.9,820.8 790.4,819.7 C789.0,818.6 786.8,818.7 785.5,817.5 C784.2,816.3 783.5,814.4 782.8,812.6 C782.0,810.6 782.5,807.6 781.2,806.0 C779.9,804.5 776.6,804.3 775.2,803.3 C774.2,802.6 773.6,802.1 773.0,801.1 C772.1,799.7 772.6,796.0 771.3,795.1 C770.2,794.4 767.8,795.0 766.4,795.7 C765.1,796.3 763.9,797.2 763.2,798.9 C761.8,802.0 763.4,811.8 762.6,814.2 C762.3,815.1 762.2,815.4 761.5,815.9 C760.3,816.6 756.2,816.0 755.0,817.0 C754.2,817.6 754.4,818.9 753.9,819.7 C753.3,820.5 752.6,821.3 751.7,821.9 C750.6,822.5 748.5,822.0 747.3,823.0 C745.7,824.3 745.5,829.3 744.1,830.6 C743.1,831.5 742.0,831.6 740.8,831.7 C739.4,831.8 737.5,831.8 736.4,831.1 C735.4,830.6 734.9,829.3 734.2,828.4 C733.6,827.5 733.0,825.6 732.6,825.7 C732.1,825.8 732.7,829.7 732.0,831.1 C731.4,832.5 730.0,833.8 728.8,834.4 C727.6,835.0 725.8,834.1 724.9,835.0 C723.7,836.3 725.1,841.4 724.4,843.7 C723.9,845.3 723.2,846.7 722.2,847.5 C721.3,848.2 720.1,848.6 718.9,848.6 C717.6,848.7 715.7,848.3 714.6,847.5 C713.5,846.7 712.9,845.2 712.4,843.7 C711.7,841.7 711.7,836.6 711.3,836.6 C710.9,836.6 711.1,842.6 710.2,844.2 C709.7,845.3 709.0,845.9 708.0,846.4 C706.9,847.1 705.0,847.7 703.7,847.5 C702.5,847.4 701.3,846.7 700.4,845.9 C699.3,844.9 698.4,843.0 697.7,841.5 C697.0,840.1 696.9,837.4 696.0,837.1 C695.2,836.9 694.0,839.2 692.7,839.9 C691.5,840.6 689.8,841.7 688.4,841.5 C686.9,841.3 685.0,839.9 684.0,838.2 C682.8,836.1 684.0,830.2 682.9,829.0 C682.4,828.3 681.5,828.8 680.7,828.4 C679.5,827.8 677.6,826.2 676.4,825.1 C675.5,824.4 675.2,823.4 674.2,823.0 C672.7,822.3 669.3,823.6 667.6,823.0 C666.4,822.4 665.6,821.7 664.9,820.2 C663.6,817.3 664.7,809.0 664.4,804.4 C664.1,800.7 664.4,796.6 663.3,794.6 C662.6,793.3 661.0,793.6 660.3,792.3 C658.9,789.5 659.7,781.5 659.3,776.7 C659.0,772.6 659.5,767.6 658.4,765.1 C657.7,763.6 656.1,763.5 655.5,762.2 C654.6,760.5 655.3,757.3 654.5,755.4 C653.8,753.8 652.2,753.3 651.6,751.5 C650.5,748.4 652.2,739.3 651.1,737.4 C650.7,736.8 650.2,736.5 649.6,736.5 C649.0,736.5 648.2,737.1 647.7,737.9 C646.7,739.5 647.2,744.9 646.2,746.7 C645.7,747.6 644.8,747.7 644.3,748.6 C643.5,749.9 643.2,752.2 642.9,754.4 C642.4,757.1 643.3,761.8 642.4,763.6 C641.8,764.7 640.5,764.5 639.9,765.6 C638.8,767.8 640.1,775.0 639.0,777.7 C638.3,779.3 637.3,780.6 636.1,781.1 C634.7,781.7 632.1,780.4 630.7,780.6 C629.7,780.8 628.9,780.8 628.3,781.6 C627.0,783.5 629.1,792.3 627.8,795.2 C627.1,796.9 625.9,798.0 624.4,798.6 C622.6,799.2 619.3,798.9 617.6,798.1 C616.3,797.5 615.4,796.6 614.7,795.2 C613.7,793.1 614.1,789.0 613.7,786.4 C613.4,784.3 613.6,782.1 612.8,780.6 C612.0,779.3 610.5,778.5 609.4,777.7 C608.3,776.9 606.8,777.0 606.0,775.8 C604.4,773.4 605.7,764.9 604.5,762.2 C603.9,760.7 602.6,760.7 602.1,759.3 C601.2,756.9 602.6,750.6 601.6,748.6 C601.1,747.5 599.7,747.7 599.2,746.7 C598.3,744.9 598.8,741.3 598.7,737.9 C598.5,733.3 599.3,725.2 598.2,721.4 C597.6,719.2 596.0,718.5 595.3,716.6 C594.5,714.4 594.6,708.8 594.3,708.8 C594.0,708.8 594.1,716.9 593.4,719.5 C592.9,721.2 592.3,722.6 591.4,723.4 C590.6,724.0 589.2,723.4 588.5,724.3 C587.0,726.3 588.1,734.2 587.5,737.9 C587.2,740.6 586.5,742.0 586.1,744.7 C585.6,748.4 585.4,754.5 585.1,758.3 C584.9,760.9 585.3,763.4 584.6,765.1 C584.1,766.4 582.8,766.7 582.2,768.0 C581.3,770.0 581.1,773.1 580.8,776.7 C580.1,782.6 579.7,800.0 579.8,800.0 C579.8,800.0 580.3,790.0 580.4,790.0 C580.4,790.0 580.3,798.6 579.8,802.1 C579.3,804.9 578.7,807.5 577.9,809.4 C577.4,810.7 576.5,811.2 576.1,812.4 C575.6,813.9 575.7,815.8 575.5,817.9 C575.2,820.9 574.6,825.4 574.3,828.8 C574.0,831.8 573.9,834.9 573.7,837.3 C573.5,839.1 573.7,840.8 573.1,842.2 C572.5,843.4 570.7,843.9 570.0,845.2 C569.3,846.6 570.0,849.1 569.4,850.6 C568.9,852.0 567.7,852.7 567.0,854.3 C566.1,856.5 566.0,860.2 565.2,862.8 C564.5,865.0 564.1,867.4 562.8,868.8 C561.5,870.2 558.5,869.7 557.3,871.3 C555.9,873.1 556.6,877.0 556.1,879.8 C555.6,882.3 555.6,885.5 554.3,887.0 C553.2,888.3 550.4,887.8 549.4,888.8 C548.5,889.9 549.2,892.0 548.2,893.1 C547.0,894.4 543.6,894.3 542.2,895.5 C541.0,896.5 540.8,898.5 539.7,899.2 C538.7,899.8 537.1,899.1 536.1,899.8 C535.0,900.5 534.7,902.9 533.7,904.0 C532.7,905.1 531.4,906.1 530.0,906.4 C528.6,906.8 526.4,905.4 525.2,905.8 C524.1,906.2 523.8,907.7 522.7,908.3 C521.5,909.0 519.4,909.5 517.9,909.5 C516.6,909.4 515.1,909.1 514.3,908.3 C513.4,907.4 513.9,905.3 513.0,904.6 C512.0,903.9 509.8,904.5 508.2,904.6 C506.6,904.7 504.8,905.4 503.3,905.2 C502.0,905.1 500.5,904.9 499.7,904.0 C498.8,903.1 499.4,900.1 498.5,899.8 C497.2,899.3 494.4,903.0 491.6,904.0 C488.3,905.2 482.5,904.3 479.5,905.8 C477.3,906.9 476.4,910.3 474.7,910.7 C473.1,911.0 471.0,910.0 469.8,908.8 C468.5,907.5 468.7,904.4 467.4,902.8 C466.0,901.1 462.5,900.5 461.3,899.1 C460.5,898.2 461.0,896.8 460.1,896.1 C458.5,894.9 452.5,895.3 450.4,895.5 C449.3,895.6 449.0,895.7 448.0,896.1 C446.2,896.8 443.1,899.7 440.7,899.7 C438.3,899.7 435.8,895.9 433.4,896.1 C430.9,896.3 428.4,900.3 426.1,901.6 C424.4,902.5 422.9,903.4 421.3,903.4 C419.7,903.4 417.6,903.0 416.4,901.6 C414.5,899.3 415.0,888.3 414.0,888.2 C413.3,888.1 413.0,893.1 411.6,894.3 C410.2,895.5 407.2,896.0 405.5,895.5 C404.0,895.0 403.2,892.1 401.9,891.9 C400.7,891.7 399.7,893.3 398.2,893.7 C396.5,894.2 394.3,894.4 392.2,894.3 C389.8,894.1 386.2,891.7 384.9,892.5 C383.9,893.0 384.4,894.9 383.7,896.1 C382.9,897.5 381.7,899.7 380.0,900.3 C378.2,901.1 374.4,898.6 372.8,899.7 C370.9,901.0 372.1,907.1 370.3,908.8 C368.9,910.3 366.0,911.3 364.3,910.7 C362.2,909.9 361.2,904.2 359.4,902.8 C358.3,901.9 356.7,901.1 355.8,901.6 C354.5,902.2 355.0,907.6 353.4,908.8 C351.7,910.0 347.9,909.9 346.1,908.8 C344.3,907.8 343.9,903.9 342.4,902.8 C341.4,901.9 339.9,901.5 338.8,901.6 C337.9,901.6 337.3,902.1 336.4,902.8 C335.0,903.8 333.2,907.6 331.5,907.6 C329.8,907.7 327.3,904.6 326.1,902.8 C325.0,901.3 325.6,899.0 324.3,897.9 C322.6,896.5 318.5,896.4 315.8,896.1 C313.3,895.8 310.6,895.3 308.5,896.1 C306.5,896.8 305.0,898.7 303.6,900.3 C302.3,902.1 302.0,905.0 300.5,906.4 C299.3,907.6 297.5,908.7 296.0,908.7 C294.5,908.7 292.5,907.7 291.4,906.4 C290.2,904.9 291.1,901.2 289.6,899.6 C288.1,897.9 284.5,897.9 282.3,896.9 C280.6,896.0 278.9,893.7 277.8,894.1 C276.5,894.7 277.4,900.5 276.0,901.9 C274.8,903.0 272.1,903.2 270.5,902.8 C269.1,902.4 268.0,900.0 266.9,900.0 C265.9,900.1 265.4,901.9 264.2,902.3 C262.6,902.8 259.7,902.3 257.8,901.9 C256.1,901.5 255.0,900.3 253.2,900.0 C251.1,899.8 247.9,901.3 246.0,901.0 C244.5,900.7 243.3,900.2 242.3,899.1 C241.0,897.8 240.3,895.0 239.6,892.8 C238.8,890.5 238.9,887.4 237.8,885.5 C236.9,883.9 235.1,883.4 234.1,881.9 C232.9,879.9 232.2,876.7 231.4,874.6 C230.8,872.9 230.7,870.9 229.6,870.0 C228.5,869.1 226.1,869.9 225.0,869.1 C224.0,868.4 223.7,867.2 223.2,865.5 C222.3,862.0 223.0,853.3 222.3,849.1 C221.9,846.5 221.4,844.3 220.5,842.7 C219.8,841.5 218.3,841.2 217.8,840.0 C217.2,838.7 217.7,837.3 217.6,835.3 C217.5,831.7 217.0,824.8 216.7,820.1 C216.4,816.1 216.0,812.4 215.7,808.8 C215.4,805.4 215.0,802.8 214.7,799.0 C214.3,793.7 214.0,786.4 213.7,779.9 C213.5,773.0 213.9,762.6 213.2,758.8 C213.0,757.4 212.5,755.8 212.3,755.9 C211.7,756.0 211.6,764.4 211.3,768.6 C210.9,772.9 210.6,777.3 210.3,781.4 C210.0,785.1 209.8,788.9 209.3,792.2 C208.9,795.0 208.2,797.2 207.8,800.0 C207.4,803.1 207.2,806.3 206.9,809.8 C206.5,813.8 206.2,818.3 205.9,822.5 C205.6,826.8 205.1,831.6 204.9,835.3 C204.7,838.1 205.2,840.3 204.6,842.7 C203.9,845.5 201.8,848.1 200.9,850.9 C200.1,853.8 200.3,857.4 199.6,860.0 C199.0,862.1 197.9,863.4 197.3,865.5 C196.6,867.9 196.2,870.8 195.9,873.7 C195.6,876.8 196.0,881.2 195.5,883.7 C195.2,885.2 195.0,886.6 194.1,887.3 C193.3,888.0 191.2,887.1 190.5,887.8 C189.7,888.5 190.2,890.6 189.6,891.9 C188.8,893.2 187.1,894.4 185.9,895.5 C185.0,896.5 184.5,897.7 183.2,898.2 C181.5,899.0 177.6,897.8 175.9,898.7 C174.6,899.4 174.4,901.5 173.2,902.3 C172.0,903.2 170.1,903.7 168.6,903.7 C167.4,903.6 166.1,902.7 165.0,902.3 C164.0,902.0 163.2,901.7 162.3,901.4 C161.3,901.1 160.2,900.8 159.1,900.5 Z" fill="#ff0000"/>
<path d="M159.2,1110.7 C160.3,1109.3 160.8,1107.3 162.3,1106.4 C163.9,1105.4 167.4,1106.4 168.9,1105.2 C170.4,1104.1 170.4,1101.4 171.4,1099.8 C172.3,1098.2 173.4,1096.4 174.4,1095.5 C175.0,1094.9 175.8,1095.1 176.2,1094.3 C177.3,1092.6 176.9,1086.5 177.4,1084.0 C177.8,1082.4 177.9,1081.6 178.7,1080.3 C179.6,1078.8 181.5,1076.3 182.9,1075.5 C183.9,1074.9 185.2,1075.7 185.9,1074.9 C187.4,1073.2 185.8,1064.6 187.1,1062.2 C187.9,1060.8 189.1,1060.3 190.2,1059.7 C191.1,1059.2 192.4,1059.4 193.2,1058.5 C194.4,1057.2 194.4,1053.7 195.0,1051.2 C195.6,1048.7 196.0,1045.3 196.8,1043.4 C197.4,1042.1 198.2,1041.5 198.7,1040.3 C199.2,1038.9 199.4,1037.3 199.9,1035.5 C200.4,1033.0 201.1,1029.2 201.7,1027.0 C202.1,1025.5 202.1,1024.2 202.9,1023.3 C203.8,1022.5 205.8,1022.4 207.2,1022.1 C208.4,1021.8 209.7,1022.3 210.8,1021.5 C212.3,1020.5 212.8,1016.4 214.4,1015.5 C215.8,1014.7 217.9,1015.0 219.3,1015.5 C220.5,1015.9 221.6,1016.6 222.3,1017.9 C223.3,1019.8 222.7,1023.7 222.9,1027.0 C223.2,1031.0 222.8,1037.4 224.1,1040.3 C225.0,1042.1 227.0,1042.4 227.8,1044.0 C228.7,1045.6 228.6,1047.5 229.0,1050.0 C229.6,1054.2 228.5,1063.6 230.2,1067.0 C231.2,1069.0 233.6,1068.9 234.4,1070.6 C235.6,1072.9 233.8,1078.1 235.0,1080.3 C236.0,1082.2 238.8,1082.2 239.9,1084.0 C241.2,1086.1 240.3,1091.4 241.7,1092.5 C242.6,1093.2 244.0,1092.3 245.4,1092.5 C247.0,1092.7 249.6,1092.4 250.8,1093.7 C252.5,1095.4 250.8,1101.9 252.6,1103.4 C254.3,1104.8 258.8,1102.5 260.5,1103.4 C261.8,1104.1 262.3,1105.4 262.9,1107.0 C263.9,1109.8 263.0,1118.6 264.2,1119.2 C264.6,1119.4 265.3,1118.5 266.0,1117.9 C267.0,1117.1 268.6,1115.4 269.6,1114.3 C270.4,1113.4 270.5,1112.4 271.4,1111.9 C272.8,1111.1 275.8,1110.8 277.5,1111.3 C279.0,1111.7 280.3,1112.9 281.1,1114.3 C282.2,1116.1 280.9,1120.2 282.3,1121.6 C283.8,1123.0 287.8,1121.6 289.6,1122.8 C291.4,1124.0 291.5,1127.8 293.3,1128.9 C295.0,1129.9 298.4,1130.3 299.9,1129.5 C301.3,1128.7 301.2,1125.6 302.4,1124.6 C303.5,1123.7 305.2,1123.3 306.6,1123.4 C308.2,1123.5 310.3,1124.4 311.5,1125.2 C312.3,1125.9 312.3,1127.1 313.3,1127.6 C314.7,1128.4 318.4,1127.3 319.9,1128.3 C321.3,1129.1 321.5,1132.4 322.4,1132.5 C323.1,1132.6 323.8,1130.5 324.8,1129.5 C326.2,1128.0 328.3,1125.4 330.3,1124.6 C332.0,1124.0 334.0,1124.1 335.7,1124.6 C337.5,1125.1 339.0,1127.4 340.6,1127.6 C342.0,1127.8 343.2,1126.7 344.8,1126.4 C347.0,1126.1 350.8,1127.4 352.7,1126.4 C354.3,1125.6 354.6,1122.7 356.1,1121.9 C357.4,1121.1 359.4,1121.1 360.9,1121.2 C362.4,1121.4 363.9,1122.7 365.2,1122.5 C366.3,1122.2 366.9,1120.4 368.2,1120.0 C369.8,1119.6 372.8,1119.6 374.3,1120.6 C375.7,1121.7 376.0,1124.5 376.7,1126.1 C377.2,1127.4 377.2,1128.9 377.9,1129.7 C378.5,1130.4 379.4,1131.0 380.3,1131.0 C381.6,1130.9 382.7,1128.5 384.6,1127.9 C387.0,1127.1 392.4,1129.3 394.3,1127.9 C395.7,1126.9 395.0,1123.6 396.1,1122.5 C397.0,1121.6 398.7,1122.1 399.7,1121.2 C400.8,1120.3 400.9,1117.8 402.2,1117.0 C403.6,1116.1 406.6,1115.8 408.2,1116.4 C409.5,1116.9 410.7,1118.4 411.2,1119.4 C411.7,1120.2 411.3,1121.5 411.9,1121.9 C412.5,1122.2 414.0,1121.9 414.9,1121.2 C416.1,1120.4 416.4,1117.2 417.9,1116.4 C419.4,1115.6 422.3,1116.2 424.0,1116.4 C425.2,1116.5 425.8,1116.9 427.0,1117.0 C429.0,1117.1 433.0,1115.7 434.9,1116.4 C436.3,1116.9 437.2,1118.1 437.9,1119.4 C438.8,1121.0 438.1,1124.3 439.1,1125.5 C440.1,1126.5 441.8,1126.6 443.4,1126.7 C445.2,1126.9 447.3,1126.3 449.5,1126.1 C451.8,1125.9 454.9,1126.5 456.7,1125.5 C458.4,1124.7 459.1,1122.3 460.4,1121.2 C461.4,1120.4 462.0,1119.8 463.4,1119.4 C465.8,1118.8 470.8,1118.9 473.7,1119.4 C476.0,1119.9 478.2,1121.3 479.8,1121.9 C480.8,1122.2 481.2,1122.3 482.2,1122.5 C483.5,1122.7 485.5,1123.5 487.1,1123.1 C488.8,1122.5 490.2,1119.8 491.9,1118.8 C493.4,1118.0 495.2,1117.1 496.8,1117.2 C498.2,1117.4 500.1,1118.4 501.0,1119.4 C501.8,1120.4 501.4,1122.8 502.2,1123.1 C503.1,1123.4 504.9,1121.0 506.5,1120.6 C508.0,1120.2 509.6,1120.7 511.3,1120.6 C513.4,1120.5 516.4,1121.0 518.0,1120.0 C519.2,1119.3 519.3,1117.2 520.4,1116.4 C521.4,1115.6 522.8,1115.2 524.0,1115.2 C525.4,1115.2 527.2,1115.5 528.3,1116.4 C529.5,1117.5 529.9,1120.1 530.7,1121.9 C531.5,1123.5 532.5,1124.9 533.1,1126.7 C533.9,1128.7 533.7,1132.8 535.0,1133.4 C536.0,1133.9 537.7,1131.8 539.2,1131.6 C540.7,1131.3 543.1,1132.1 544.1,1132.2 C544.5,1132.2 544.6,1132.0 545.0,1132.2 C546.0,1132.7 548.2,1137.9 549.2,1137.6 C550.4,1137.4 550.5,1132.4 551.1,1129.2 C551.8,1125.0 551.1,1117.3 552.9,1114.6 C553.9,1113.1 555.5,1112.4 557.1,1112.2 C558.9,1112.0 561.9,1112.9 563.2,1114.0 C564.3,1114.9 564.0,1117.4 565.0,1117.6 C566.3,1118.0 569.3,1114.3 571.1,1113.4 C572.4,1112.7 573.9,1113.1 574.7,1112.2 C575.9,1110.8 575.6,1107.6 575.9,1104.9 C576.3,1101.4 575.3,1095.3 576.5,1092.8 C577.3,1091.2 578.9,1090.2 580.2,1089.7 C581.3,1089.3 582.6,1089.5 583.8,1089.7 C585.0,1089.9 586.6,1091.5 587.4,1091.0 C589.1,1090.0 588.8,1083.0 589.3,1078.8 C589.8,1074.3 588.9,1067.7 590.5,1064.9 C591.5,1063.2 593.1,1062.2 594.7,1061.8 C596.4,1061.5 599.0,1062.0 600.2,1063.1 C601.3,1064.0 601.5,1065.8 602.0,1067.3 C602.5,1068.8 602.9,1070.1 603.2,1072.2 C603.8,1075.4 602.5,1082.9 604.4,1084.9 C605.8,1086.3 609.8,1086.5 611.1,1085.5 C612.4,1084.6 611.3,1081.0 612.3,1079.4 C613.2,1078.0 615.0,1076.8 616.6,1076.4 C618.1,1076.0 620.2,1076.2 621.4,1077.0 C622.6,1077.7 623.2,1079.2 623.8,1080.6 C624.5,1082.2 624.0,1085.2 625.0,1086.1 C626.1,1086.9 628.3,1085.7 629.9,1086.1 C631.6,1086.6 633.2,1088.3 634.8,1089.1 C636.0,1089.9 637.5,1090.0 638.4,1091.0 C639.4,1092.0 639.2,1094.8 640.2,1095.2 C641.2,1095.6 643.0,1093.9 644.5,1093.4 C646.0,1092.9 647.6,1092.2 649.3,1092.2 C651.2,1092.1 653.8,1092.8 655.4,1093.4 C656.4,1093.7 657.0,1094.7 657.8,1094.6 C658.6,1094.5 659.2,1093.3 660.2,1092.8 C661.5,1092.1 663.3,1091.4 665.1,1091.0 C667.0,1090.5 669.3,1090.0 671.1,1090.3 C672.9,1090.7 674.7,1092.0 676.0,1092.8 C677.0,1093.4 677.6,1094.7 678.4,1094.6 C679.5,1094.5 680.5,1091.9 682.1,1091.0 C684.0,1089.8 687.2,1088.4 689.3,1088.5 C690.9,1088.6 692.1,1089.7 693.6,1090.3 C695.1,1091.1 697.3,1093.1 698.4,1092.8 C699.4,1092.4 699.3,1090.2 700.2,1089.1 C701.4,1087.9 704.1,1087.4 705.1,1086.1 C706.0,1084.9 705.5,1082.9 706.3,1081.9 C707.1,1080.9 709.1,1081.1 709.9,1080.0 C711.0,1078.6 710.1,1074.9 711.2,1073.4 C712.0,1072.1 713.5,1071.6 714.8,1070.9 C716.0,1070.4 717.6,1070.7 718.4,1069.7 C719.5,1068.5 718.6,1065.2 719.7,1063.7 C720.7,1062.2 723.3,1061.9 724.5,1060.6 C725.6,1059.4 725.8,1057.4 726.9,1056.4 C727.9,1055.5 729.2,1055.0 730.6,1054.6 C732.0,1054.1 733.8,1054.4 735.4,1054.0 C737.1,1053.5 738.9,1052.8 740.3,1051.5 C741.8,1050.1 743.0,1047.9 743.9,1045.5 C745.0,1042.5 744.6,1037.1 746.0,1034.8 C746.8,1033.2 748.1,1032.2 749.5,1031.8 C750.9,1031.4 752.8,1032.1 754.3,1032.4 C755.6,1032.7 757.1,1034.0 757.9,1033.6 C758.8,1033.0 758.0,1029.4 759.0,1028.2 C760.0,1027.1 762.2,1026.3 763.8,1026.4 C765.4,1026.5 767.5,1027.4 768.6,1028.8 C769.9,1030.6 768.6,1036.6 769.8,1037.1 C770.6,1037.5 771.9,1035.2 773.3,1034.8 C775.0,1034.3 777.3,1034.4 779.3,1034.8 C781.6,1035.2 785.0,1036.2 786.4,1037.7 C787.7,1039.1 787.8,1041.0 788.2,1043.1 C788.7,1045.8 787.9,1050.6 788.8,1052.6 C789.4,1053.8 790.1,1054.2 791.2,1055.0 C793.1,1056.3 797.7,1057.3 799.5,1058.6 C800.7,1059.3 801.2,1059.9 801.9,1061.0 C802.7,1062.2 802.6,1064.5 803.7,1065.7 C804.9,1067.0 807.2,1067.3 809.0,1068.1 C811.0,1068.9 813.0,1070.0 815.0,1070.5 C817.0,1071.0 819.8,1071.9 821.0,1071.1 C822.1,1070.3 821.2,1067.0 822.1,1065.7 C822.9,1064.6 824.4,1063.7 825.7,1063.3 C827.0,1062.9 828.9,1064.3 829.9,1063.3 C832.0,1061.4 830.0,1049.0 831.7,1045.5 C832.6,1043.6 834.5,1043.6 835.2,1041.9 C836.3,1039.4 834.3,1033.7 835.2,1031.2 C835.8,1029.5 837.5,1029.3 838.2,1027.6 C839.3,1025.1 838.8,1020.4 839.4,1016.9 C840.0,1013.6 841.3,1011.1 841.8,1007.4 C842.5,1002.4 841.9,994.0 842.4,989.5 C842.7,986.8 843.1,985.2 843.6,983.0 C844.1,980.5 844.7,977.4 845.4,975.2 C845.9,973.6 846.6,972.8 847.1,971.1 C848.0,968.5 848.3,963.4 849.5,961.0 C850.3,959.3 851.7,959.1 852.5,957.4 C853.8,954.3 852.6,945.5 854.3,943.1 C855.2,941.8 856.5,941.8 857.9,941.3 C859.6,940.7 862.0,939.8 863.8,940.1 C865.6,940.4 867.5,941.3 868.6,943.1 C870.4,946.1 868.6,955.3 869.8,958.6 C870.4,960.3 871.4,960.8 872.1,962.1 C873.0,963.6 873.4,965.5 874.5,966.9 C875.6,968.3 877.8,968.9 878.7,970.5 C879.7,972.3 878.7,976.3 879.9,977.6 C880.8,978.6 883.0,978.1 884.0,978.8 C884.9,979.4 885.4,980.0 885.8,981.2 C886.6,983.2 885.4,988.4 886.4,990.7 C887.2,992.4 889.1,992.7 890.0,994.3 C891.1,996.2 891.3,998.8 891.8,1001.4 C892.4,1004.6 891.8,1010.0 893.0,1012.1 C893.7,1013.4 895.1,1013.6 896.0,1014.5 C896.9,1015.5 897.6,1017.0 898.3,1018.1 C898.9,1019.0 899.2,1019.4 900.0,1020.5 C901.6,1022.6 905.7,1027.2 907.3,1030.0 C908.5,1032.0 908.4,1034.4 909.8,1035.5 C911.1,1036.5 913.9,1035.9 915.2,1036.7 C916.3,1037.3 917.2,1037.9 917.7,1039.1 C918.5,1041.1 916.6,1046.4 917.7,1048.2 C918.4,1049.4 920.5,1049.3 921.3,1050.0 C921.9,1050.6 922.2,1050.9 922.5,1051.8 C923.1,1053.7 922.2,1059.0 923.1,1060.9 C923.7,1062.1 925.0,1062.2 925.5,1063.4 C926.4,1065.2 925.6,1069.9 926.1,1071.8 C926.4,1072.9 926.8,1073.4 927.4,1074.3 C928.2,1075.5 929.7,1077.4 931.0,1078.5 C932.1,1079.5 933.7,1079.6 934.6,1080.9 C936.0,1083.0 934.7,1088.8 936.5,1090.6 C938.0,1092.3 941.9,1091.4 943.7,1092.5 C945.1,1093.2 946.2,1094.5 946.8,1095.5 C947.2,1096.3 946.7,1097.4 947.4,1097.9 C948.4,1098.8 951.9,1097.8 953.4,1098.5 C954.8,1099.2 955.2,1100.7 956.5,1101.6 C958.0,1102.6 960.6,1102.6 961.9,1104.0 C963.3,1105.5 962.9,1109.5 964.4,1110.7 C965.5,1111.6 968.0,1110.8 969.2,1111.3 C970.0,1111.6 970.4,1112.5 971.0,1112.5 C971.9,1112.4 972.8,1110.3 974.1,1110.0 C975.7,1109.7 979.1,1111.0 980.3,1111.8 C981.0,1112.4 980.9,1113.4 981.5,1113.7 C982.4,1114.1 984.4,1112.8 985.8,1113.1 C987.4,1113.4 989.1,1115.1 990.6,1116.1 C991.9,1116.9 992.8,1118.0 994.3,1118.5 C996.0,1119.1 999.0,1118.4 1000.3,1119.1 C1001.3,1119.7 1001.5,1121.5 1002.1,1121.5 C1002.9,1121.6 1003.5,1119.1 1004.6,1118.5 C1005.7,1117.9 1007.4,1117.6 1008.8,1117.9 C1010.5,1118.3 1011.9,1121.0 1013.7,1121.5 C1015.2,1122.1 1017.0,1121.3 1018.5,1121.5 C1019.8,1121.8 1021.2,1122.0 1022.2,1122.8 C1023.2,1123.6 1023.4,1125.7 1024.6,1126.4 C1026.0,1127.2 1029.2,1127.0 1030.6,1126.4 C1031.8,1125.9 1032.1,1124.9 1033.1,1124.0 C1034.4,1122.6 1035.9,1120.0 1037.9,1119.1 C1040.0,1118.2 1043.5,1117.9 1045.2,1118.5 C1046.4,1118.9 1046.9,1121.1 1047.6,1120.9 C1048.6,1120.7 1048.7,1116.2 1050.0,1114.9 C1051.2,1113.7 1053.2,1113.0 1054.9,1113.1 C1056.7,1113.1 1059.1,1114.0 1060.4,1115.5 C1061.9,1117.4 1061.1,1124.3 1062.2,1124.6 C1063.1,1124.8 1064.3,1121.1 1065.8,1119.7 C1067.4,1118.3 1069.4,1116.2 1071.3,1116.1 C1073.1,1115.9 1075.5,1117.6 1076.7,1118.5 C1077.6,1119.1 1078.1,1119.5 1078.6,1120.3 C1079.2,1121.6 1078.2,1125.2 1079.2,1125.8 C1080.2,1126.4 1083.1,1124.7 1084.6,1124.0 C1085.8,1123.4 1086.5,1122.3 1087.6,1122.2 C1089.0,1121.9 1091.3,1122.4 1092.5,1123.4 C1093.7,1124.3 1093.7,1126.9 1094.9,1127.6 C1096.0,1128.2 1098.3,1128.2 1099.2,1127.6 C1099.9,1127.2 1099.5,1125.7 1100.4,1125.2 C1102.3,1124.0 1109.8,1124.8 1113.1,1125.2 C1115.3,1125.4 1117.0,1125.4 1118.6,1126.4 C1120.5,1127.6 1121.7,1131.9 1123.4,1132.5 C1124.8,1132.9 1126.6,1132.1 1127.7,1131.2 C1128.8,1130.4 1128.9,1128.7 1130.1,1127.6 C1131.6,1126.2 1134.2,1124.4 1136.2,1124.0 C1137.8,1123.6 1139.9,1123.9 1141.0,1124.6 C1141.9,1125.1 1142.4,1126.2 1142.8,1127.0 C1143.2,1127.8 1142.8,1129.0 1143.4,1129.4 C1144.4,1130.1 1148.1,1129.8 1149.5,1128.2 C1151.8,1125.5 1148.7,1113.4 1150.7,1110.0 C1151.8,1108.2 1153.8,1107.1 1155.6,1107.0 C1157.5,1106.9 1160.3,1108.1 1161.6,1110.0 C1163.7,1113.0 1161.1,1124.8 1162.8,1125.8 C1163.7,1126.3 1165.2,1124.1 1166.5,1124.0 C1167.9,1123.8 1169.5,1124.4 1170.9,1125.2 C1172.5,1126.1 1173.5,1128.6 1175.2,1129.4 C1176.9,1130.2 1179.6,1130.3 1181.2,1130.0 C1182.4,1129.9 1183.1,1129.0 1184.3,1128.8 C1185.7,1128.6 1188.2,1129.6 1189.1,1128.8 C1189.9,1128.2 1189.2,1126.3 1189.7,1125.2 C1190.3,1124.0 1191.8,1123.3 1192.7,1122.2 C1193.7,1121.0 1194.0,1119.1 1195.2,1118.5 C1196.4,1117.9 1198.6,1118.0 1200.0,1118.5 C1201.4,1119.0 1203.0,1120.3 1203.7,1121.5 C1204.3,1122.7 1203.4,1125.1 1204.3,1125.8 C1205.2,1126.5 1208.8,1126.1 1209.7,1125.2 C1210.6,1124.3 1209.6,1122.0 1210.3,1120.9 C1211.1,1119.8 1212.6,1119.0 1214.6,1118.5 C1218.3,1117.5 1228.5,1117.5 1231.6,1118.5 C1232.8,1118.9 1233.0,1119.9 1234.0,1120.3 C1235.2,1120.9 1237.1,1120.7 1238.2,1121.5 C1239.3,1122.4 1240.2,1123.9 1240.7,1125.2 C1241.2,1126.5 1240.5,1128.8 1241.3,1129.4 C1241.9,1130.0 1243.5,1130.0 1244.3,1129.4 C1245.5,1128.5 1244.9,1124.3 1246.1,1122.8 C1247.2,1121.4 1249.4,1120.7 1251.0,1120.3 C1252.4,1120.0 1254.2,1120.9 1255.2,1120.3 C1256.1,1119.8 1256.1,1118.0 1257.0,1117.3 C1258.1,1116.5 1259.8,1116.1 1261.3,1116.1 C1262.8,1116.1 1265.0,1116.4 1266.1,1117.3 C1267.1,1118.1 1267.1,1119.8 1267.9,1120.9 C1268.9,1122.2 1270.8,1123.1 1271.6,1124.6 C1272.5,1126.2 1271.7,1129.8 1272.8,1130.6 C1273.6,1131.3 1275.2,1130.8 1276.4,1130.6 C1277.7,1130.4 1279.0,1130.0 1280.1,1129.4 C1281.0,1128.9 1281.4,1128.0 1282.5,1127.6 C1284.0,1127.1 1287.2,1127.0 1288.6,1127.6 C1289.4,1128.0 1289.5,1129.0 1290.4,1129.4 C1291.5,1130.0 1294.2,1130.8 1295.2,1130.0 C1296.4,1129.2 1295.5,1125.6 1296.4,1124.0 C1297.4,1122.4 1299.1,1120.9 1300.7,1120.3 C1302.2,1119.8 1304.2,1119.7 1305.5,1120.3 C1306.8,1120.9 1307.3,1123.0 1308.6,1124.0 C1309.9,1125.0 1312.2,1126.3 1313.4,1126.4 C1314.2,1126.5 1314.6,1126.1 1315.2,1125.8 C1316.3,1125.3 1317.7,1124.3 1318.9,1123.4 C1320.1,1122.4 1321.1,1120.8 1322.5,1120.3 C1323.9,1119.8 1326.1,1119.9 1327.4,1120.3 C1328.4,1120.7 1329.2,1121.4 1329.8,1122.2 C1330.4,1122.8 1330.6,1124.6 1331.0,1124.6 C1331.6,1124.6 1332.0,1121.8 1332.8,1120.9 C1333.6,1120.2 1334.7,1119.9 1335.9,1119.7 C1337.3,1119.5 1339.4,1119.9 1340.7,1119.7 C1341.7,1119.6 1342.1,1119.3 1343.1,1119.1 C1344.7,1118.8 1347.5,1119.0 1349.2,1118.5 C1350.6,1118.1 1351.5,1117.1 1352.8,1116.7 C1354.3,1116.3 1355.9,1115.9 1357.7,1116.1 C1359.9,1116.3 1363.2,1117.3 1365.2,1118.5 C1366.7,1119.5 1367.6,1121.9 1368.8,1122.2 C1369.8,1122.4 1370.7,1121.1 1371.8,1120.9 C1373.1,1120.8 1375.0,1120.8 1376.1,1121.5 C1377.2,1122.3 1377.2,1124.5 1378.5,1125.2 C1380.0,1126.0 1384.0,1126.3 1385.2,1125.2 C1386.4,1124.1 1384.8,1120.0 1385.8,1118.5 C1386.6,1117.2 1388.6,1116.5 1390.0,1116.1 C1391.2,1115.8 1392.6,1115.6 1393.7,1116.1 C1394.9,1116.7 1395.2,1119.4 1396.7,1120.3 C1398.3,1121.4 1401.6,1120.5 1403.4,1121.5 C1405.0,1122.5 1405.6,1125.6 1407.0,1125.8 C1408.4,1126.0 1410.1,1123.4 1411.9,1122.8 C1413.7,1122.1 1415.9,1122.7 1417.9,1122.2 C1420.0,1121.6 1422.2,1119.4 1424.0,1119.1 C1425.3,1118.9 1426.4,1119.1 1427.6,1119.7 C1429.3,1120.6 1430.8,1124.3 1432.5,1124.6 C1434.0,1124.8 1435.8,1122.5 1437.3,1122.2 C1438.6,1121.9 1440.0,1121.6 1441.0,1122.2 C1442.0,1122.7 1442.7,1124.7 1443.4,1125.8 C1443.9,1126.7 1443.9,1127.7 1444.6,1128.2 C1445.5,1128.9 1447.8,1128.1 1448.8,1128.8 C1449.8,1129.5 1450.0,1132.4 1450.7,1132.5 C1451.4,1132.5 1451.9,1129.6 1453.1,1128.2 C1454.6,1126.5 1457.3,1124.4 1459.2,1123.4 C1460.5,1122.7 1461.8,1122.9 1462.8,1122.2 C1463.9,1121.3 1464.0,1119.2 1465.2,1118.5 C1466.7,1117.6 1469.6,1117.5 1471.3,1117.9 C1472.7,1118.3 1473.9,1120.4 1474.9,1120.3 C1475.9,1120.2 1476.2,1118.4 1477.3,1117.9 C1479.0,1117.1 1483.0,1116.3 1484.6,1117.3 C1486.2,1118.2 1485.6,1122.5 1487.1,1123.4 C1488.4,1124.1 1491.0,1123.3 1492.5,1122.8 C1493.7,1122.4 1494.5,1121.7 1495.5,1120.9 C1497.0,1119.9 1498.6,1117.5 1500.4,1116.7 C1501.9,1116.0 1503.8,1115.9 1505.2,1116.1 C1506.4,1116.2 1507.3,1116.7 1508.3,1117.3 C1509.4,1118.0 1510.4,1120.3 1511.3,1120.3 C1512.2,1120.3 1512.6,1118.4 1513.7,1117.9 C1515.2,1117.2 1518.3,1116.9 1519.8,1117.3 C1520.9,1117.6 1521.7,1119.4 1522.2,1119.1 C1523.2,1118.7 1521.8,1111.8 1522.8,1110.0 C1523.5,1108.9 1524.6,1108.5 1525.9,1108.2 C1527.7,1107.8 1530.8,1108.4 1533.1,1108.8 C1535.3,1109.2 1537.9,1109.2 1539.2,1110.6 C1540.6,1112.1 1539.9,1117.5 1541.0,1117.9 C1542.0,1118.2 1543.6,1114.6 1545.3,1114.3 C1547.3,1113.9 1550.5,1116.3 1552.6,1116.9 C1554.2,1117.4 1555.6,1118.2 1557.0,1118.0 C1558.2,1117.9 1558.9,1116.7 1560.2,1116.4 C1562.0,1116.0 1565.3,1115.7 1566.8,1116.4 C1567.9,1116.9 1567.8,1118.6 1569.0,1119.1 C1571.0,1120.1 1576.5,1118.6 1578.8,1119.1 C1580.2,1119.5 1581.0,1120.9 1582.1,1120.8 C1583.2,1120.6 1583.8,1118.1 1585.4,1117.5 C1587.8,1116.5 1593.1,1117.4 1596.3,1117.5 C1598.7,1117.6 1601.2,1117.2 1602.8,1118.0 C1604.1,1118.7 1604.9,1119.9 1605.5,1121.3 C1606.4,1123.2 1606.0,1128.8 1606.6,1128.9 C1607.3,1129.0 1608.2,1123.9 1609.4,1122.9 C1610.0,1122.4 1610.7,1122.5 1611.6,1122.4 C1612.8,1122.2 1614.5,1122.4 1615.9,1122.4 L1615.9,1140.4 C1615.4,1140.6 1614.7,1140.4 1614.3,1141.0 C1613.0,1142.6 1614.0,1152.0 1612.6,1155.1 C1611.8,1157.0 1610.8,1158.3 1609.4,1159.0 C1607.9,1159.6 1605.4,1159.5 1603.9,1159.0 C1602.6,1158.5 1601.8,1157.1 1600.6,1156.2 C1599.3,1155.3 1597.2,1154.6 1596.3,1153.5 C1595.6,1152.7 1596.0,1151.3 1595.2,1150.8 C1594.0,1150.0 1590.1,1150.6 1588.6,1151.3 C1587.6,1151.8 1587.4,1153.1 1586.4,1153.5 C1585.1,1154.1 1582.5,1154.0 1581.0,1153.5 C1579.7,1153.1 1578.4,1152.4 1577.7,1151.3 C1576.9,1150.1 1576.9,1148.3 1576.6,1146.4 C1576.3,1143.8 1577.0,1137.8 1576.1,1137.1 C1575.7,1136.9 1575.1,1137.4 1574.4,1137.7 C1573.5,1138.1 1572.2,1138.9 1571.2,1139.9 C1570.0,1141.0 1568.5,1142.7 1567.9,1144.2 C1567.4,1145.5 1568.0,1146.9 1567.3,1148.0 C1566.6,1149.3 1565.0,1150.8 1563.5,1151.3 C1562.0,1151.8 1559.6,1151.3 1558.1,1150.8 C1556.8,1150.3 1555.9,1149.2 1554.8,1148.6 C1553.7,1148.0 1552.7,1147.0 1551.5,1147.0 C1550.3,1147.0 1548.9,1148.0 1547.7,1148.8 C1546.4,1149.7 1545.5,1151.5 1544.1,1151.9 C1542.6,1152.3 1540.4,1152.1 1539.2,1151.3 C1538.0,1150.5 1537.9,1148.0 1536.8,1147.0 C1535.8,1146.1 1534.4,1145.7 1533.1,1145.2 C1531.9,1144.7 1530.7,1143.8 1529.5,1144.0 C1527.9,1144.2 1526.4,1147.2 1524.7,1147.6 C1523.1,1148.0 1521.3,1147.7 1519.8,1147.0 C1518.1,1146.2 1516.2,1142.7 1514.9,1142.8 C1513.9,1142.9 1513.8,1145.2 1512.5,1145.8 C1510.5,1146.8 1504.4,1144.8 1502.8,1145.8 C1502.0,1146.3 1502.4,1147.6 1501.6,1148.2 C1500.4,1149.1 1497.7,1149.1 1495.5,1149.4 C1493.0,1149.9 1489.5,1150.8 1487.1,1150.7 C1485.2,1150.6 1483.7,1149.9 1482.2,1149.4 C1480.9,1149.1 1479.8,1148.1 1478.6,1148.2 C1477.0,1148.3 1475.5,1150.2 1473.7,1150.7 C1471.6,1151.2 1468.4,1150.7 1466.4,1150.7 C1465.0,1150.7 1463.5,1150.0 1462.8,1150.7 C1461.9,1151.4 1462.8,1154.1 1462.2,1155.5 C1461.6,1156.9 1460.4,1158.5 1459.2,1159.1 C1458.1,1159.8 1456.7,1160.1 1455.5,1159.8 C1453.9,1159.2 1452.2,1156.2 1450.7,1154.9 C1449.4,1153.9 1448.3,1153.4 1447.0,1152.5 C1445.5,1151.4 1443.9,1149.5 1442.2,1148.8 C1440.6,1148.2 1438.8,1148.4 1437.3,1148.2 C1436.0,1148.0 1434.5,1147.1 1433.7,1147.6 C1432.7,1148.2 1433.5,1151.1 1432.5,1152.5 C1431.3,1154.1 1428.4,1155.4 1426.4,1156.1 C1424.8,1156.7 1423.0,1157.1 1421.6,1156.7 C1420.2,1156.4 1419.1,1155.4 1417.9,1154.3 C1416.3,1152.8 1414.3,1149.9 1413.1,1148.2 C1412.3,1147.1 1411.8,1145.2 1411.2,1145.2 C1410.8,1145.2 1410.5,1146.7 1410.0,1147.6 C1409.5,1148.7 1409.4,1150.4 1408.2,1151.3 C1406.5,1152.5 1402.2,1152.3 1399.7,1152.5 C1397.9,1152.6 1396.4,1153.1 1394.9,1152.5 C1393.1,1151.7 1391.0,1149.4 1390.0,1147.6 C1389.2,1146.1 1389.2,1142.8 1388.8,1142.8 C1388.4,1142.8 1388.2,1145.3 1387.6,1146.4 C1387.0,1147.5 1386.3,1148.8 1385.2,1149.4 C1383.7,1150.2 1381.0,1150.4 1379.1,1150.0 C1377.4,1149.7 1375.9,1148.1 1374.3,1147.6 C1372.7,1147.1 1370.3,1146.4 1369.4,1147.0 C1368.7,1147.5 1369.4,1149.3 1368.8,1150.0 C1368.2,1150.8 1367.1,1150.9 1365.8,1151.3 C1363.2,1151.9 1357.1,1152.7 1354.1,1152.5 C1352.1,1152.3 1350.2,1150.6 1349.2,1151.3 C1347.9,1152.1 1349.4,1157.7 1348.0,1159.1 C1346.8,1160.4 1343.7,1160.8 1341.9,1160.4 C1340.3,1159.9 1338.5,1158.4 1337.7,1156.7 C1336.6,1154.5 1337.8,1147.8 1337.1,1147.6 C1336.6,1147.5 1336.1,1149.4 1335.3,1150.0 C1334.2,1150.9 1332.5,1151.8 1331.0,1151.9 C1329.5,1151.9 1327.3,1151.1 1326.2,1150.0 C1325.1,1149.0 1324.7,1145.7 1324.3,1145.8 C1323.9,1145.9 1324.5,1151.0 1323.7,1152.5 C1323.2,1153.4 1322.4,1153.9 1321.3,1154.3 C1319.6,1154.9 1315.7,1155.2 1314.0,1154.3 C1312.8,1153.6 1312.8,1151.3 1311.6,1150.7 C1310.4,1150.0 1308.5,1150.6 1306.8,1150.7 C1304.6,1150.7 1301.8,1151.2 1299.5,1151.3 C1297.4,1151.3 1295.5,1150.9 1293.4,1151.3 C1291.1,1151.6 1288.3,1152.9 1286.1,1153.7 C1284.4,1154.3 1282.8,1155.5 1281.3,1155.5 C1279.8,1155.5 1278.0,1154.7 1277.0,1153.7 C1276.0,1152.6 1276.1,1150.2 1275.2,1148.8 C1274.4,1147.6 1273.5,1146.6 1272.2,1145.8 C1270.5,1144.8 1267.6,1144.0 1265.5,1144.0 C1263.8,1144.0 1262.2,1144.9 1260.7,1145.2 C1259.4,1145.5 1258.1,1145.8 1257.0,1145.8 C1256.1,1145.8 1255.6,1145.2 1254.6,1145.2 C1252.8,1145.1 1249.3,1146.4 1247.3,1146.4 C1245.9,1146.4 1244.9,1145.8 1243.7,1145.8 C1242.5,1145.8 1241.5,1146.4 1240.0,1146.4 C1238.0,1146.5 1234.9,1146.3 1232.8,1145.8 C1231.0,1145.4 1229.0,1143.4 1227.9,1144.0 C1226.6,1144.6 1227.5,1149.4 1226.1,1150.7 C1224.7,1151.8 1220.8,1150.4 1219.4,1151.3 C1218.4,1151.9 1218.6,1153.7 1217.6,1154.3 C1216.4,1155.1 1213.7,1155.3 1212.2,1154.9 C1210.7,1154.6 1209.3,1153.7 1208.5,1152.5 C1207.5,1151.0 1208.5,1147.4 1207.3,1146.4 C1206.1,1145.4 1203.1,1146.5 1201.2,1146.4 C1199.5,1146.3 1198.0,1145.9 1196.4,1145.8 C1194.8,1145.7 1192.8,1145.1 1191.5,1145.8 C1190.4,1146.4 1190.2,1148.6 1189.1,1149.4 C1188.1,1150.2 1186.5,1150.1 1185.5,1150.7 C1184.5,1151.1 1184.1,1152.1 1183.0,1152.5 C1181.8,1152.9 1179.6,1153.0 1178.2,1152.5 C1177.0,1152.0 1176.2,1150.9 1175.2,1150.0 C1174.1,1149.2 1173.1,1147.5 1172.1,1147.6 C1171.0,1147.8 1170.1,1150.7 1168.9,1152.5 C1167.5,1154.7 1165.9,1158.3 1164.1,1159.8 C1162.6,1160.9 1160.8,1161.7 1159.2,1161.6 C1157.6,1161.5 1155.4,1160.7 1154.4,1159.1 C1152.9,1157.1 1154.6,1150.1 1153.1,1148.8 C1152.3,1148.1 1150.8,1148.5 1149.5,1148.8 C1147.7,1149.3 1145.4,1151.7 1143.4,1152.5 C1141.8,1153.2 1140.1,1154.0 1138.6,1153.7 C1136.9,1153.3 1135.4,1150.5 1133.7,1150.0 C1132.3,1149.7 1130.6,1149.8 1129.5,1150.7 C1128.1,1151.8 1128.5,1155.8 1127.1,1157.3 C1125.8,1158.7 1123.4,1159.8 1121.6,1159.8 C1119.9,1159.7 1118.4,1158.0 1116.8,1157.3 C1115.2,1156.6 1112.9,1156.6 1111.9,1155.5 C1111.0,1154.5 1111.6,1151.9 1110.7,1151.3 C1109.7,1150.6 1107.2,1151.2 1105.8,1151.9 C1104.4,1152.6 1103.5,1155.0 1102.2,1155.5 C1101.1,1156.0 1099.9,1155.4 1098.6,1155.5 C1096.8,1155.7 1094.3,1157.1 1092.5,1156.7 C1090.7,1156.3 1088.7,1154.9 1087.6,1153.1 C1086.3,1150.7 1088.1,1143.8 1086.4,1142.8 C1085.2,1141.9 1081.8,1143.4 1080.4,1144.6 C1079.1,1145.7 1079.2,1148.4 1077.9,1149.4 C1076.7,1150.4 1074.6,1151.0 1073.1,1150.7 C1071.4,1150.3 1069.9,1147.6 1068.2,1147.0 C1066.9,1146.6 1065.2,1146.5 1064.0,1147.0 C1062.8,1147.5 1062.3,1149.5 1061.0,1150.0 C1059.2,1150.8 1055.9,1149.4 1053.7,1150.0 C1051.5,1150.8 1049.8,1153.7 1047.6,1154.3 C1045.5,1154.8 1042.3,1154.9 1041.0,1153.7 C1039.7,1152.6 1040.7,1148.8 1039.7,1147.6 C1039.0,1146.8 1037.8,1146.4 1036.7,1146.4 C1035.5,1146.5 1034.4,1147.7 1033.1,1148.2 C1031.6,1148.9 1029.4,1149.0 1028.2,1150.0 C1027.0,1151.2 1027.1,1153.8 1025.8,1154.9 C1024.4,1156.1 1021.4,1157.0 1019.7,1156.7 C1018.3,1156.5 1016.9,1155.4 1016.1,1154.3 C1015.3,1153.3 1015.9,1151.4 1014.9,1150.7 C1013.5,1149.7 1009.1,1149.5 1007.6,1150.7 C1006.1,1151.8 1007.1,1156.0 1005.8,1157.3 C1004.7,1158.4 1002.5,1158.9 1000.9,1158.5 C999.2,1158.2 997.2,1156.5 996.1,1154.9 C994.9,1153.3 995.5,1149.8 994.3,1148.8 C993.1,1148.0 990.8,1149.4 989.4,1148.8 C988.0,1148.3 987.3,1146.4 985.8,1145.8 C983.9,1145.0 980.9,1146.0 978.9,1145.2 C977.0,1144.5 975.8,1142.7 974.1,1141.6 C972.2,1140.4 969.8,1139.4 968.0,1138.6 C966.6,1137.9 965.7,1137.7 964.4,1136.7 C962.3,1135.3 959.0,1130.5 957.1,1130.1 C956.1,1129.8 955.5,1130.7 954.7,1130.7 C953.7,1130.6 952.8,1129.9 951.6,1129.5 C950.1,1128.8 948.0,1128.1 946.2,1127.0 C944.1,1125.8 941.6,1123.6 940.1,1122.2 C939.1,1121.3 938.7,1120.2 937.7,1119.8 C936.4,1119.2 934.3,1120.2 932.8,1119.8 C931.4,1119.3 930.0,1118.8 929.2,1117.3 C927.6,1114.5 929.3,1104.5 928.6,1101.6 C928.3,1100.3 928.1,1099.7 927.4,1099.1 C926.4,1098.4 923.6,1099.3 922.5,1098.5 C921.6,1097.9 921.2,1096.8 920.7,1095.5 C920.0,1093.4 920.5,1089.1 919.5,1087.0 C918.7,1085.4 916.7,1085.0 915.8,1083.4 C914.8,1081.2 915.7,1076.1 914.6,1074.9 C914.0,1074.2 913.0,1074.6 912.2,1074.3 C911.3,1073.9 910.4,1073.4 909.8,1072.4 C908.8,1070.9 909.1,1067.2 908.6,1065.2 C908.2,1063.7 908.1,1062.5 907.3,1061.5 C906.6,1060.5 905.0,1060.4 904.3,1059.1 C903.1,1056.9 904.3,1050.7 903.1,1048.2 C902.3,1046.5 900.3,1045.7 899.5,1044.6 C898.9,1043.7 899.0,1042.6 898.3,1042.1 C897.4,1041.6 895.8,1042.2 894.6,1042.1 C893.4,1042.0 891.7,1042.2 891.0,1041.5 C890.4,1041.0 890.8,1039.8 890.4,1039.1 C889.8,1038.2 888.2,1037.6 887.3,1036.7 C886.4,1035.8 885.4,1034.8 884.9,1033.6 C884.4,1032.5 884.4,1031.4 884.3,1030.0 C884.1,1028.3 884.3,1026.4 884.0,1024.0 C883.7,1020.8 883.1,1015.2 882.3,1012.1 C881.7,1010.2 881.3,1009.0 880.5,1007.4 C879.6,1005.5 877.7,1003.5 876.9,1001.4 C876.2,999.5 876.6,997.1 875.7,995.5 C874.9,994.0 873.1,993.5 872.1,991.9 C870.9,989.8 870.8,985.7 869.8,983.6 C869.1,982.1 868.5,980.8 867.4,980.0 C866.1,979.1 863.2,979.7 862.0,978.8 C861.1,978.1 860.9,976.4 860.2,975.8 C859.9,975.5 859.5,975.1 859.0,975.2 C858.2,975.4 856.8,977.3 856.1,978.8 C855.0,980.9 854.8,984.5 854.3,987.1 C853.8,989.6 853.5,991.9 853.1,994.3 C852.7,996.7 852.1,999.3 851.9,1001.4 C851.8,1003.2 852.0,1004.2 851.9,1006.2 C851.7,1009.7 850.6,1017.0 850.1,1020.5 C849.9,1022.5 849.8,1023.4 849.5,1025.2 C849.1,1027.6 848.8,1031.7 847.9,1033.6 C847.4,1034.8 846.5,1035.0 846.1,1036.1 C845.6,1037.7 846.5,1041.1 846.1,1042.7 C845.9,1043.8 845.2,1044.0 844.9,1045.2 C844.2,1047.6 845.3,1054.9 844.3,1057.3 C843.7,1058.6 842.4,1058.5 841.9,1059.7 C840.9,1061.9 841.7,1067.6 841.2,1070.6 C841.0,1072.8 840.9,1074.7 840.0,1076.1 C839.3,1077.2 837.7,1077.6 837.0,1078.5 C836.3,1079.4 836.4,1080.6 835.8,1081.5 C835.2,1082.6 834.4,1083.9 833.4,1084.6 C832.4,1085.3 830.5,1084.8 829.7,1085.8 C828.7,1087.1 830.0,1090.7 829.1,1092.5 C828.3,1094.1 825.7,1094.4 824.9,1096.1 C823.8,1098.2 825.1,1102.5 824.3,1104.6 C823.6,1106.2 822.5,1107.6 821.2,1108.2 C819.9,1108.8 817.7,1108.8 816.4,1108.2 C815.1,1107.7 814.0,1106.5 813.4,1105.2 C812.6,1103.5 813.6,1099.5 812.7,1098.5 C812.3,1098.0 811.7,1098.0 810.9,1097.9 C809.8,1097.8 808.0,1098.9 806.7,1098.5 C805.3,1098.1 803.8,1096.9 803.0,1095.5 C802.2,1093.8 803.3,1090.6 802.4,1088.8 C801.6,1087.2 799.0,1086.7 798.2,1085.2 C797.4,1083.7 798.4,1081.3 797.6,1079.7 C796.8,1078.1 794.1,1077.0 793.3,1075.5 C792.7,1074.3 793.5,1072.6 792.7,1071.8 C791.8,1070.9 788.9,1071.8 787.3,1071.2 C785.9,1070.7 784.4,1069.9 783.6,1068.8 C782.9,1067.8 783.0,1066.3 782.4,1065.2 C781.8,1064.1 780.7,1063.1 780.0,1062.1 C779.5,1061.3 779.0,1060.8 778.7,1059.8 C778.2,1058.4 779.0,1055.1 778.1,1054.4 C777.3,1053.8 775.2,1054.5 773.9,1055.0 C772.6,1055.5 771.7,1056.9 770.4,1057.4 C769.1,1057.9 767.4,1057.7 766.2,1058.0 C765.3,1058.2 764.4,1057.9 763.8,1058.6 C762.5,1060.1 764.0,1067.9 763.2,1070.5 C762.8,1071.9 762.4,1072.7 761.4,1073.5 C760.2,1074.4 757.7,1075.6 756.1,1075.2 C754.5,1074.9 752.8,1073.4 751.9,1071.7 C750.7,1069.4 751.1,1062.2 750.7,1062.1 C750.5,1062.1 750.3,1063.1 750.1,1063.9 C749.7,1065.4 750.0,1068.7 748.9,1070.5 C747.9,1072.2 745.5,1073.1 743.9,1074.6 C742.4,1076.1 740.7,1077.6 739.7,1079.4 C738.6,1081.4 739.1,1084.8 737.8,1086.1 C736.8,1087.1 735.0,1087.0 733.6,1087.3 C732.2,1087.6 730.1,1087.2 729.4,1087.9 C728.7,1088.5 729.3,1090.2 728.7,1091.0 C728.1,1091.7 726.9,1091.9 725.7,1092.2 C724.1,1092.6 720.8,1091.5 719.7,1092.8 C718.2,1094.3 720.4,1100.1 719.7,1102.5 C719.2,1104.1 718.4,1105.3 717.2,1106.1 C716.0,1107.0 713.4,1106.5 712.4,1107.3 C711.6,1107.9 711.9,1109.0 711.2,1109.8 C710.2,1110.9 707.9,1112.5 706.3,1112.8 C705.1,1113.0 703.4,1111.6 702.7,1112.2 C701.7,1112.9 703.0,1116.8 702.1,1118.2 C701.2,1119.5 699.3,1120.2 697.8,1120.7 C696.3,1121.2 694.5,1120.7 693.0,1121.3 C691.4,1121.9 689.9,1123.0 688.7,1124.3 C687.5,1125.6 687.1,1128.3 685.7,1129.2 C684.4,1130.0 682.3,1130.2 680.8,1129.8 C679.4,1129.4 678.0,1128.3 677.2,1126.7 C676.0,1124.5 677.3,1118.2 676.0,1117.0 C675.3,1116.4 673.7,1116.4 673.0,1117.0 C671.6,1118.2 672.8,1125.0 671.1,1126.7 C669.8,1128.1 666.9,1128.2 665.1,1127.9 C663.3,1127.7 661.2,1127.1 660.2,1125.5 C658.7,1123.2 660.0,1113.4 659.6,1113.4 C659.3,1113.4 659.3,1118.7 658.4,1120.7 C657.6,1122.4 656.3,1124.2 654.8,1124.9 C653.3,1125.6 650.7,1125.6 649.3,1124.9 C647.9,1124.2 647.1,1120.6 646.3,1120.7 C645.5,1120.7 645.5,1123.5 644.5,1124.3 C643.2,1125.3 640.6,1125.9 639.0,1125.5 C637.4,1125.1 635.6,1123.4 634.8,1121.9 C633.9,1120.2 634.9,1117.3 634.1,1115.8 C633.5,1114.6 632.2,1113.9 631.1,1113.4 C630.0,1112.9 628.8,1112.9 627.5,1112.8 C626.0,1112.7 624.2,1113.2 622.6,1112.8 C620.8,1112.3 618.7,1109.9 617.2,1109.8 C616.0,1109.7 615.3,1110.9 614.1,1111.0 C612.7,1111.1 610.7,1110.4 609.3,1109.8 C607.9,1109.2 606.9,1107.9 605.6,1107.3 C604.5,1106.8 603.2,1106.6 602.0,1106.1 C600.8,1105.6 599.6,1104.1 598.4,1104.3 C596.7,1104.6 594.8,1108.1 593.5,1109.8 C592.5,1111.0 592.2,1112.4 591.1,1113.4 C590.0,1114.4 588.0,1114.7 586.8,1115.8 C585.6,1117.0 584.7,1119.0 583.8,1120.7 C582.9,1122.3 582.6,1123.8 581.4,1125.5 C579.8,1127.8 575.9,1130.2 574.7,1132.8 C573.8,1134.9 574.9,1137.6 574.1,1139.5 C573.4,1141.2 572.2,1142.6 570.5,1143.7 C568.2,1145.2 563.2,1145.8 560.8,1146.7 C559.2,1147.4 558.5,1148.0 557.1,1148.6 C555.4,1149.3 553.1,1150.0 551.1,1150.4 C549.1,1150.8 546.7,1150.6 545.0,1151.0 C543.7,1151.3 542.7,1151.7 541.6,1152.2 C540.7,1152.6 540.3,1153.1 539.2,1153.4 C537.6,1153.8 534.4,1154.0 532.5,1153.4 C530.9,1152.9 529.8,1151.3 528.3,1150.4 C526.7,1149.3 524.8,1148.6 523.4,1147.3 C522.0,1146.0 520.9,1142.4 519.8,1142.5 C518.9,1142.5 518.7,1145.4 517.4,1146.1 C515.5,1147.1 511.0,1145.3 508.9,1146.1 C507.3,1146.7 506.6,1148.6 505.2,1149.1 C503.8,1149.7 501.7,1149.8 500.4,1149.1 C499.1,1148.5 498.7,1146.3 497.4,1145.5 C496.0,1144.7 493.9,1143.9 492.5,1144.3 C491.3,1144.6 490.7,1146.8 489.5,1147.3 C488.1,1147.9 486.1,1147.7 484.6,1147.3 C483.3,1147.0 482.5,1145.9 481.0,1145.5 C479.0,1145.0 475.5,1145.5 473.7,1145.5 C472.7,1145.5 472.2,1145.6 471.3,1145.5 C469.9,1145.3 467.8,1145.1 466.4,1144.3 C465.2,1143.6 464.5,1141.3 463.4,1141.3 C462.1,1141.3 460.9,1144.8 459.2,1145.5 C457.3,1146.3 453.9,1144.7 452.5,1145.5 C451.5,1146.1 451.6,1147.8 450.7,1148.5 C449.5,1149.4 447.4,1149.8 445.8,1149.8 C444.2,1149.7 442.7,1148.2 441.0,1147.9 C439.1,1147.6 436.2,1147.3 434.9,1147.9 C434.0,1148.4 433.8,1149.5 433.1,1150.4 C432.2,1151.5 431.3,1153.3 430.0,1154.0 C428.7,1154.7 426.6,1154.9 425.2,1154.6 C423.8,1154.3 422.5,1153.4 421.6,1152.2 C420.3,1150.6 420.2,1145.8 419.1,1145.5 C418.4,1145.3 417.8,1147.0 416.7,1147.3 C415.0,1147.9 411.1,1148.2 409.4,1147.3 C408.2,1146.6 407.6,1145.1 407.0,1143.7 C406.3,1142.0 406.7,1138.4 405.8,1137.6 C405.2,1137.1 404.1,1137.2 403.4,1137.6 C401.9,1138.5 400.6,1143.5 399.1,1145.5 C398.0,1147.1 396.3,1147.9 395.5,1149.1 C394.8,1150.1 394.7,1151.0 394.3,1152.2 C393.7,1153.6 393.7,1156.2 392.4,1157.0 C391.1,1157.9 388.1,1156.3 386.4,1157.0 C384.7,1157.7 383.9,1160.6 382.1,1161.3 C380.4,1162.0 377.5,1162.1 376.1,1161.3 C374.8,1160.5 374.5,1157.1 373.7,1157.0 C373.1,1156.9 372.7,1158.3 371.8,1158.8 C370.7,1159.6 368.6,1160.8 367.0,1160.7 C365.3,1160.6 363.2,1159.6 362.1,1158.2 C360.8,1156.6 361.5,1151.5 360.3,1151.0 C359.3,1150.5 357.5,1152.9 356.1,1153.4 C354.8,1153.8 353.2,1154.2 352.1,1153.7 C350.9,1153.2 350.1,1150.0 349.1,1150.1 C347.8,1150.2 347.1,1154.9 345.4,1156.1 C343.8,1157.3 341.2,1157.6 339.4,1157.4 C337.8,1157.2 336.1,1156.7 335.1,1155.5 C333.9,1154.1 334.1,1148.9 333.3,1148.9 C332.5,1148.8 331.9,1154.8 330.3,1156.1 C328.9,1157.3 326.6,1157.5 324.8,1157.4 C323.0,1157.3 321.3,1155.9 319.3,1155.5 C317.3,1155.1 314.6,1155.2 312.7,1154.9 C311.3,1154.8 310.4,1154.3 309.0,1154.3 C307.1,1154.3 304.2,1156.1 302.4,1155.5 C300.7,1155.1 299.2,1153.5 298.1,1151.9 C296.9,1150.0 297.2,1145.4 295.7,1144.6 C294.5,1144.0 292.3,1146.1 290.8,1145.8 C289.5,1145.6 288.3,1143.5 287.2,1143.4 C286.3,1143.4 285.8,1144.3 284.8,1144.6 C283.0,1145.1 279.2,1145.7 277.5,1145.2 C276.4,1144.9 276.0,1143.4 275.1,1143.4 C274.0,1143.4 272.8,1145.4 271.4,1145.8 C269.9,1146.3 267.6,1146.3 266.0,1145.8 C264.4,1145.4 263.1,1144.2 261.7,1143.4 C260.5,1142.6 258.9,1142.1 258.1,1141.0 C257.2,1139.8 257.6,1137.5 256.9,1136.1 C256.3,1134.9 255.6,1133.6 254.5,1133.1 C253.2,1132.6 251.2,1133.9 249.6,1133.7 C247.8,1133.5 245.3,1133.2 244.1,1131.9 C242.9,1130.4 243.8,1126.6 242.9,1124.6 C242.2,1122.9 240.6,1122.1 239.9,1120.4 C239.0,1118.1 240.0,1113.4 238.7,1111.9 C237.7,1110.8 235.5,1111.5 234.4,1110.7 C233.5,1109.9 233.1,1108.6 232.6,1107.0 C231.8,1104.3 232.5,1097.2 230.8,1095.5 C229.8,1094.5 227.6,1095.8 226.6,1094.9 C225.3,1093.8 225.9,1089.6 224.7,1088.2 C223.9,1087.1 222.0,1087.4 221.1,1086.4 C220.1,1085.3 219.7,1083.7 219.3,1081.6 C218.5,1077.7 219.4,1068.8 218.7,1064.6 C218.3,1062.0 217.7,1060.0 216.9,1058.5 C216.2,1057.4 215.0,1057.4 214.4,1056.1 C213.0,1053.0 214.5,1039.7 213.2,1038.5 C212.9,1038.2 212.4,1038.3 212.0,1038.5 C211.5,1038.8 211.2,1039.9 210.8,1040.9 C210.1,1042.6 209.0,1044.9 208.4,1047.6 C207.6,1051.2 208.1,1057.8 207.2,1060.9 C206.6,1062.8 205.3,1063.6 204.7,1065.2 C204.0,1067.1 203.8,1069.6 203.5,1071.9 C203.2,1074.2 203.9,1077.3 202.9,1079.1 C202.0,1080.8 199.1,1081.3 198.1,1082.8 C197.2,1084.0 197.7,1085.6 196.8,1087.0 C195.7,1088.9 192.4,1091.4 190.8,1092.5 C189.8,1093.1 188.9,1092.9 188.4,1093.7 C187.5,1094.9 187.6,1097.4 187.1,1099.8 C186.5,1103.0 186.4,1108.7 184.7,1111.3 C183.5,1113.1 181.0,1113.1 179.9,1114.9 C178.4,1117.3 179.5,1123.1 178.0,1125.2 C177.0,1126.7 175.2,1126.7 173.8,1127.6 C172.3,1128.7 171.1,1130.7 169.6,1131.3 C168.1,1131.8 165.8,1130.3 164.7,1131.3 C162.9,1133.0 165.2,1142.8 163.5,1144.6 C162.5,1145.7 160.7,1145.0 159.2,1145.2 Z" fill="#0000ff"/>
<circle cx="862.6" cy="44.4" r="10.45" fill="#ff00ff"/>
<circle cx="1331.4" cy="113.2" r="10.45" fill="#ff00ff"/>
<circle cx="1330.5" cy="200.5" r="10.45" fill="#e5da33"/>
<circle cx="193.6" cy="688" r="10.45" fill="#ff00ff"/>
<circle cx="225.5" cy="688" r="10.45" fill="#e5da33"/>
<circle cx="592.6" cy="657.5" r="10.45" fill="#ff00ff"/>
<circle cx="654.5" cy="690.3" r="10.45" fill="#ff00ff"/>
<circle cx="774.5" cy="745" r="10.45" fill="#e5da33"/>
<circle cx="192.5" cy="997.5" r="10.45" fill="#ff00ff"/>
<circle cx="229.6" cy="999.5" r="10.45" fill="#e5da33"/>
<circle cx="601.5" cy="1044.5" r="10.45" fill="#e5da33"/>
<circle cx="764.4" cy="1007.5" r="10.45" fill="#e5da33"/>
<circle cx="862.5" cy="905.4" r="10.45" fill="#ff00ff"/>
<text transform="translate(879.91,118.80) scale(0.7234,0.6373)" font-size="100" font-weight="500" font-family="'Noto Serif CJK SC', serif" style="font-feature-settings:'hwid' 1" fill="#000000">A</text><text transform="translate(916.40,137.00) scale(0.4000,0.4885)" font-size="100" fill="#000000">1</text><text transform="translate(938.60,135.04) scale(0.4667,0.3697)" font-size="100" fill="#000000">g</text>
<text transform="translate(809.81,860.80) scale(0.7234,0.6373)" font-size="100" font-weight="500" font-family="'Noto Serif CJK SC', serif" style="font-feature-settings:'hwid' 1" fill="#000000">A</text><text transform="translate(846.14,880.90) scale(0.4286,0.5176)" font-size="100" fill="#000000">1</text><text transform="translate(869.15,877.83) scale(0.4552,0.3890)" font-size="100" fill="#000000">g</text>
<text transform="translate(228.05,673.90) scale(0.6490,0.7023)" font-size="100" fill="#000000">F</text><text transform="translate(261.95,691.90) scale(0.4550,0.4697)" font-size="100" fill="#000000">2</text><text transform="translate(284.93,690.93) scale(0.4598,0.3890)" font-size="100" fill="#000000">g</text>
<text transform="translate(547.25,600.90) scale(0.5849,0.7160)" font-size="100" fill="#000000">E</text><text transform="translate(581.91,616.89) scale(0.4644,0.3862)" font-size="100" fill="#000000">g</text>
<text transform="translate(635.72,671.00) scale(0.6592,0.7038)" font-size="100" fill="#000000">F</text><text transform="translate(670.83,688.00) scale(0.4600,0.4742)" font-size="100" fill="#000000">2</text><text transform="translate(694.01,686.52) scale(0.4414,0.3848)" font-size="100" fill="#000000">g</text>
<text transform="translate(733.04,693.80) scale(0.6531,0.7130)" font-size="100" fill="#000000">F</text><text transform="translate(767.95,711.00) scale(0.4550,0.4727)" font-size="100" fill="#000000">2</text><text transform="translate(790.93,709.89) scale(0.4598,0.3862)" font-size="100" fill="#000000">g</text>
<text transform="translate(243.83,977.90) scale(0.6571,0.7008)" font-size="100" fill="#000000">F</text><text transform="translate(278.86,995.90) scale(0.4525,0.4803)" font-size="100" fill="#000000">2</text><text transform="translate(302.29,993.99) scale(0.4253,0.3766)" font-size="100" fill="#000000">g</text>
<text transform="translate(570.04,1005.90) scale(0.5868,0.7145)" font-size="100" fill="#000000">E</text><text transform="translate(604.93,1022.47) scale(0.4598,0.3917)" font-size="100" fill="#000000">g</text>
<text transform="translate(723.94,970.50) scale(0.6531,0.7099)" font-size="100" fill="#000000">F</text><text transform="translate(758.91,988.30) scale(0.4650,0.4894)" font-size="100" fill="#000000">2</text><text transform="translate(781.97,986.02) scale(0.4506,0.3848)" font-size="100" fill="#000000">g</text>
<text transform="translate(1357.61,127.98) scale(0.8293,0.6141)" font-size="100" font-weight="400" font-family="'Noto Serif CJK SC', serif" style="font-feature-settings:'hwid' 1" fill="#ff00ff">C</text><text transform="translate(1394.26,128.05) scale(0.7275,0.5679)" font-size="100" font-weight="400" font-family="'Noto Serif CJK SC', serif" style="font-feature-settings:'hwid' 1" fill="#ff00ff">o</text><text transform="translate(1429.57,146.52) scale(0.4463,0.4806)" font-size="100" fill="#ff00ff">3</text><text transform="translate(1450.00,128.00) scale(0.8000,0.6013)" font-size="100" font-weight="400" font-family="'Noto Serif CJK SC', serif" style="font-feature-settings:'hwid' 1" fill="#ff00ff">O</text><text transform="translate(1486.99,147.25) scale(0.4559,0.4954)" font-size="100" fill="#ff00ff">4</text>
<text transform="translate(1355.51,216.58) scale(0.8293,0.6154)" font-size="100" font-weight="400" font-family="'Noto Serif CJK SC', serif" style="font-feature-settings:'hwid' 1" fill="#e5da33">C</text><text transform="translate(1392.33,216.63) scale(0.7150,0.5786)" font-size="100" font-weight="400" font-family="'Noto Serif CJK SC', serif" style="font-feature-settings:'hwid' 1" fill="#e5da33">o</text><text transform="translate(1426.17,216.90) scale(0.6894,0.6373)" font-size="100" font-weight="500" font-family="'Noto Serif CJK SC', serif" style="font-feature-settings:'hwid' 1" fill="#e5da33">A</text><text transform="translate(1454.15,216.90) scale(0.9522,0.6025)" font-size="100" font-weight="300" font-family="'Noto Serif CJK SC', serif" style="font-feature-settings:'hwid' 1" fill="#e5da33">l</text><text transform="translate(1495.26,234.60) scale(0.4525,0.4758)" font-size="100" fill="#e5da33">2</text><text transform="translate(1516.01,216.59) scale(0.7775,0.6090)" font-size="100" font-weight="400" font-family="'Noto Serif CJK SC', serif" style="font-feature-settings:'hwid' 1" fill="#e5da33">O</text><text transform="translate(1552.11,234.84) scale(0.4452,0.4831)" font-size="100" fill="#e5da33">4</text>
<text transform="translate(1218.66,805.18) scale(0.8213,0.6154)" font-size="100" font-weight="400" font-family="'Noto Serif CJK SC', serif" style="font-feature-settings:'hwid' 1" fill="#ff0000">C</text><text transform="translate(1255.05,805.24) scale(0.7300,0.5750)" font-size="100" font-weight="400" font-family="'Noto Serif CJK SC', serif" style="font-feature-settings:'hwid' 1" fill="#ff0000">o</text><text transform="translate(1286.66,800.95) scale(0.8219,0.6083)" font-size="100" font-weight="200" font-family="'Noto Serif CJK SC', serif" style="font-feature-settings:'hwid' 1" fill="#ff0000">/</text><text transform="translate(1321.71,805.60) scale(0.7255,0.6333)" font-size="100" font-weight="500" font-family="'Noto Serif CJK SC', serif" style="font-feature-settings:'hwid' 1" fill="#ff0000">A</text><text transform="translate(1349.87,805.60) scale(0.9652,0.6000)" font-size="100" font-weight="300" font-family="'Noto Serif CJK SC', serif" style="font-feature-settings:'hwid' 1" fill="#ff0000">l</text><text transform="translate(1390.72,823.10) scale(0.4625,0.4712)" font-size="100" fill="#ff0000">2</text><text transform="translate(1411.34,805.19) scale(0.7725,0.6064)" font-size="100" font-weight="400" font-family="'Noto Serif CJK SC', serif" style="font-feature-settings:'hwid' 1" fill="#ff0000">O</text><text transform="translate(1447.58,823.82) scale(0.4439,0.4821)" font-size="100" fill="#ff0000">3</text><text transform="translate(1468.26,825.40) scale(0.7256,1.2000)" font-size="100" font-weight="400" font-family="'Noto Serif CJK SC', serif" style="font-feature-settings:'hwid' 1" fill="#ff0000">-</text><text transform="translate(1501.29,805.79) scale(0.7538,0.6187)" font-size="100" font-weight="400" font-family="'Noto Serif CJK SC', serif" style="font-feature-settings:'hwid' 1" fill="#ff0000">N</text><text transform="translate(1533.12,805.66) scale(0.8113,0.6244)" font-size="100" font-weight="400" font-family="'Noto Serif CJK SC', serif" style="font-feature-settings:'hwid' 1" fill="#ff0000">S</text>
<text transform="translate(1211.66,1062.08) scale(0.8213,0.6154)" font-size="100" font-weight="400" font-family="'Noto Serif CJK SC', serif" style="font-feature-settings:'hwid' 1" fill="#0000ff">C</text><text transform="translate(1248.05,1062.14) scale(0.7300,0.5750)" font-size="100" font-weight="400" font-family="'Noto Serif CJK SC', serif" style="font-feature-settings:'hwid' 1" fill="#0000ff">o</text><text transform="translate(1279.66,1057.85) scale(0.8219,0.6083)" font-size="100" font-weight="200" font-family="'Noto Serif CJK SC', serif" style="font-feature-settings:'hwid' 1" fill="#0000ff">/</text><text transform="translate(1314.71,1062.50) scale(0.7255,0.6333)" font-size="100" font-weight="500" font-family="'Noto Serif CJK SC', serif" style="font-feature-settings:'hwid' 1" fill="#0000ff">A</text><text transform="translate(1342.87,1062.50) scale(0.9652,0.6000)" font-size="100" font-weight="300" font-family="'Noto Serif CJK SC', serif" style="font-feature-settings:'hwid' 1" fill="#0000ff">l</text><text transform="translate(1383.72,1080.00) scale(0.4625,0.4712)" font-size="100" fill="#0000ff">2</text><text transform="translate(1404.34,1062.09) scale(0.7725,0.6064)" font-size="100" font-weight="400" font-family="'Noto Serif CJK SC', serif" style="font-feature-settings:'hwid' 1" fill="#0000ff">O</text><text transform="translate(1440.58,1080.72) scale(0.4439,0.4821)" font-size="100" fill="#0000ff">3</text><text transform="translate(1461.26,1082.30) scale(0.7256,1.2000)" font-size="100" font-weight="400" font-family="'Noto Serif CJK SC', serif" style="font-feature-settings:'hwid' 1" fill="#0000ff">-</text><text transform="translate(1494.41,1062.69) scale(0.7451,0.6280)" font-size="100" font-weight="400" font-family="'Noto Serif CJK SC', serif" style="font-feature-settings:'hwid' 1" fill="#0000ff">N</text><text transform="translate(1527.75,1062.38) scale(0.7000,0.6238)" font-size="100" font-weight="400" font-family="'Noto Serif CJK SC', serif" style="font-feature-settings:'hwid' 1" fill="#0000ff">R</text>
<g><text transform="translate(191.40,1277.6) scale(0.955,1)" text-anchor="middle" font-size="69.6">2</text><text transform="translate(225.00,1277.6) scale(0.955,1)" text-anchor="middle" font-size="69.6">0</text><text transform="translate(258.60,1277.6) scale(0.955,1)" text-anchor="middle" font-size="69.6">0</text></g>
<g><text transform="translate(456.20,1277.6) scale(0.955,1)" text-anchor="middle" font-size="69.6">4</text><text transform="translate(489.80,1277.6) scale(0.955,1)" text-anchor="middle" font-size="69.6">0</text><text transform="translate(523.40,1277.6) scale(0.955,1)" text-anchor="middle" font-size="69.6">0</text></g>
<g><text transform="translate(721.00,1277.6) scale(0.955,1)" text-anchor="middle" font-size="69.6">6</text><text transform="translate(754.60,1277.6) scale(0.955,1)" text-anchor="middle" font-size="69.6">0</text><text transform="translate(788.20,1277.6) scale(0.955,1)" text-anchor="middle" font-size="69.6">0</text></g>
<g><text transform="translate(985.80,1277.6) scale(0.955,1)" text-anchor="middle" font-size="69.6">8</text><text transform="translate(1019.40,1277.6) scale(0.955,1)" text-anchor="middle" font-size="69.6">0</text><text transform="translate(1053.00,1277.6) scale(0.955,1)" text-anchor="middle" font-size="69.6">0</text></g>
<g><text transform="translate(1233.80,1277.6) scale(0.955,1)" text-anchor="middle" font-size="69.6">1</text><text transform="translate(1267.40,1277.6) scale(0.955,1)" text-anchor="middle" font-size="69.6">0</text><text transform="translate(1301.00,1277.6) scale(0.955,1)" text-anchor="middle" font-size="69.6">0</text><text transform="translate(1334.60,1277.6) scale(0.955,1)" text-anchor="middle" font-size="69.6">0</text></g>
<g><text transform="translate(1498.60,1277.6) scale(0.955,1)" text-anchor="middle" font-size="69.6">1</text><text transform="translate(1532.20,1277.6) scale(0.955,1)" text-anchor="middle" font-size="69.6">2</text><text transform="translate(1565.80,1277.6) scale(0.955,1)" text-anchor="middle" font-size="69.6">0</text><text transform="translate(1599.40,1277.6) scale(0.955,1)" text-anchor="middle" font-size="69.6">0</text></g>
<text transform="translate(466.3,1407.7) scale(1,1)" font-size="99.6" font-weight="bold">Raman Shift/cm</text>
<text transform="translate(1157.41,1370.04) scale(0.7978,0.7571)" font-size="100" font-weight="bold" fill="#000">−</text><text transform="translate(1197.59,1367.90) scale(0.6757,0.7038)" font-size="100" font-weight="bold" fill="#000">1</text>
<text transform="translate(88,1055.3) rotate(-90) scale(0.9747,1)" font-size="102" font-weight="bold">Raman Intensity/a.u.</text>
</svg></body></html>
